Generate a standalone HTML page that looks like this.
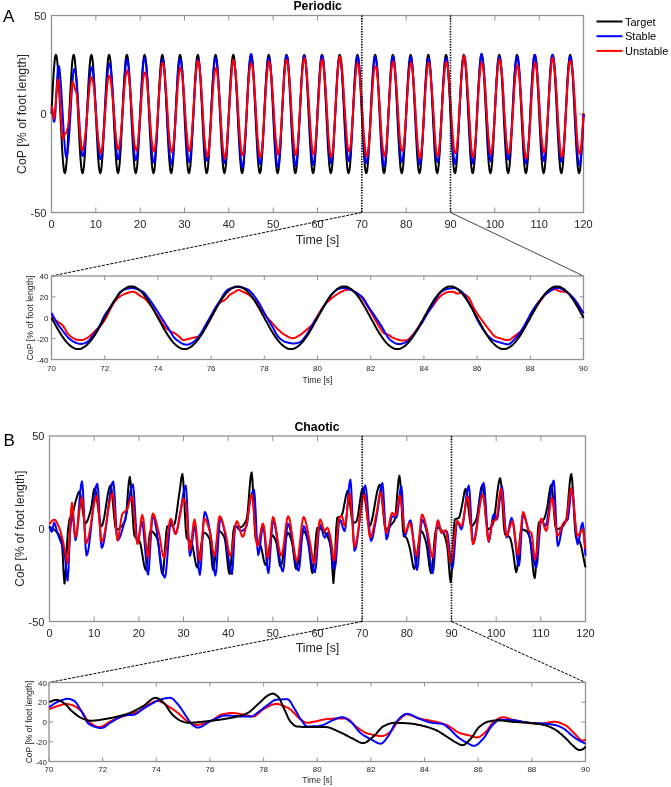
<!DOCTYPE html>
<html><head><meta charset="utf-8"><title>Figure</title>
<style>
html,body{margin:0;padding:0;background:#fff;}
body{width:671px;height:787px;overflow:hidden;}
svg{display:block;font-family:"Liberation Sans", sans-serif;will-change:transform;}
</style></head><body>
<svg width="671" height="787" viewBox="0 0 671 787">
<rect width="671" height="787" fill="#fff"/>
<defs><clipPath id="ca"><rect x="49.5" y="13.5" width="536.0" height="201.0"/></clipPath><clipPath id="cz"><rect x="49.5" y="274.0" width="536.0" height="87.5"/></clipPath><clipPath id="cb"><rect x="47.5" y="434.0" width="540.0" height="189.5"/></clipPath><clipPath id="cc"><rect x="47.0" y="680.5" width="540.5" height="83.0"/></clipPath></defs>
<rect x="51.50" y="15.50" width="532.00" height="197.00" fill="none" stroke="#929292" stroke-width="1.3"/>
<path d="M51.50 212.50V207.50M51.50 15.50V20.50M95.83 212.50V207.50M95.83 15.50V20.50M140.17 212.50V207.50M140.17 15.50V20.50M184.50 212.50V207.50M184.50 15.50V20.50M228.83 212.50V207.50M228.83 15.50V20.50M273.17 212.50V207.50M273.17 15.50V20.50M317.50 212.50V207.50M317.50 15.50V20.50M361.83 212.50V207.50M361.83 15.50V20.50M406.17 212.50V207.50M406.17 15.50V20.50M450.50 212.50V207.50M450.50 15.50V20.50M494.83 212.50V207.50M494.83 15.50V20.50M539.17 212.50V207.50M539.17 15.50V20.50M583.50 212.50V207.50M583.50 15.50V20.50M51.50 114.00H56.50M583.50 114.00H578.50" stroke="#929292" stroke-width="1" fill="none"/>
<text x="51.50" y="228.30" font-size="11" text-anchor="middle" font-weight="normal" fill="#262626">0</text>
<text x="95.83" y="228.30" font-size="11" text-anchor="middle" font-weight="normal" fill="#262626">10</text>
<text x="140.17" y="228.30" font-size="11" text-anchor="middle" font-weight="normal" fill="#262626">20</text>
<text x="184.50" y="228.30" font-size="11" text-anchor="middle" font-weight="normal" fill="#262626">30</text>
<text x="228.83" y="228.30" font-size="11" text-anchor="middle" font-weight="normal" fill="#262626">40</text>
<text x="273.17" y="228.30" font-size="11" text-anchor="middle" font-weight="normal" fill="#262626">50</text>
<text x="317.50" y="228.30" font-size="11" text-anchor="middle" font-weight="normal" fill="#262626">60</text>
<text x="361.83" y="228.30" font-size="11" text-anchor="middle" font-weight="normal" fill="#262626">70</text>
<text x="406.17" y="228.30" font-size="11" text-anchor="middle" font-weight="normal" fill="#262626">80</text>
<text x="450.50" y="228.30" font-size="11" text-anchor="middle" font-weight="normal" fill="#262626">90</text>
<text x="494.83" y="228.30" font-size="11" text-anchor="middle" font-weight="normal" fill="#262626">100</text>
<text x="539.17" y="228.30" font-size="11" text-anchor="middle" font-weight="normal" fill="#262626">110</text>
<text x="583.50" y="228.30" font-size="11" text-anchor="middle" font-weight="normal" fill="#262626">120</text>
<text x="46.50" y="118.00" font-size="11" text-anchor="end" font-weight="normal" fill="#262626">0</text>
<text x="46.50" y="19.50" font-size="11" text-anchor="end" font-weight="normal" fill="#262626">50</text>
<text x="46.50" y="216.50" font-size="11" text-anchor="end" font-weight="normal" fill="#262626">-50</text>
<path d="M51.5 114.0L51.9 104.8 52.4 95.7 52.8 87.2 53.3 79.3 53.7 72.2 54.2 66.2 54.6 61.3 55.0 57.8 55.5 55.6 55.9 54.9 56.4 55.6 56.8 57.8 57.3 61.3 57.7 66.2 58.1 72.2 58.6 79.3 59.0 87.2 59.5 95.7 59.9 104.8 60.4 114.0 60.8 123.2 61.3 132.3 61.7 140.8 62.1 148.7 62.6 155.8 63.0 161.8 63.5 166.7 63.9 170.2 64.4 172.4 64.8 173.1 65.2 172.4 65.7 170.2 66.1 166.7 66.6 161.8 67.0 155.8 67.5 148.7 67.9 140.8 68.3 132.3 68.8 123.2 69.2 114.0 69.7 104.8 70.1 95.7 70.6 87.2 71.0 79.3 71.5 72.2 71.9 66.2 72.3 61.3 72.8 57.8 73.2 55.6 73.7 54.9 74.1 55.6 74.6 57.8 75.0 61.3 75.4 66.2 75.9 72.2 76.3 79.3 76.8 87.2 77.2 95.7 77.7 104.8 78.1 114.0 78.5 123.2 79.0 132.3 79.4 140.8 79.9 148.7 80.3 155.8 80.8 161.8 81.2 166.7 81.6 170.2 82.1 172.4 82.5 173.1 83.0 172.4 83.4 170.2 83.9 166.7 84.3 161.8 84.8 155.8 85.2 148.7 85.6 140.8 86.1 132.3 86.5 123.2 87.0 114.0 87.4 104.8 87.9 95.7 88.3 87.2 88.7 79.3 89.2 72.2 89.6 66.2 90.1 61.3 90.5 57.8 91.0 55.6 91.4 54.9 91.8 55.6 92.3 57.8 92.7 61.3 93.2 66.2 93.6 72.2 94.1 79.3 94.5 87.2 94.9 95.7 95.4 104.8 95.8 114.0 96.3 123.2 96.7 132.3 97.2 140.8 97.6 148.7 98.0 155.8 98.5 161.8 98.9 166.7 99.4 170.2 99.8 172.4 100.3 173.1 100.7 172.4 101.2 170.2 101.6 166.7 102.0 161.8 102.5 155.8 102.9 148.7 103.4 140.8 103.8 132.3 104.3 123.2 104.7 114.0 105.1 104.8 105.6 95.7 106.0 87.2 106.5 79.3 106.9 72.2 107.4 66.2 107.8 61.3 108.2 57.8 108.7 55.6 109.1 54.9 109.6 55.6 110.0 57.8 110.5 61.3 110.9 66.2 111.3 72.2 111.8 79.3 112.2 87.2 112.7 95.7 113.1 104.8 113.6 114.0 114.0 123.2 114.5 132.3 114.9 140.8 115.3 148.7 115.8 155.8 116.2 161.8 116.7 166.7 117.1 170.2 117.6 172.4 118.0 173.1 118.4 172.4 118.9 170.2 119.3 166.7 119.8 161.8 120.2 155.8 120.7 148.7 121.1 140.8 121.5 132.3 122.0 123.2 122.4 114.0 122.9 104.8 123.3 95.7 123.8 87.2 124.2 79.3 124.7 72.2 125.1 66.2 125.5 61.3 126.0 57.8 126.4 55.6 126.9 54.9 127.3 55.6 127.8 57.8 128.2 61.3 128.6 66.2 129.1 72.2 129.5 79.3 130.0 87.2 130.4 95.7 130.9 104.8 131.3 114.0 131.7 123.2 132.2 132.3 132.6 140.8 133.1 148.7 133.5 155.8 134.0 161.8 134.4 166.7 134.8 170.2 135.3 172.4 135.7 173.1 136.2 172.4 136.6 170.2 137.1 166.7 137.5 161.8 137.9 155.8 138.4 148.7 138.8 140.8 139.3 132.3 139.7 123.2 140.2 114.0 140.6 104.8 141.1 95.7 141.5 87.2 141.9 79.3 142.4 72.2 142.8 66.2 143.3 61.3 143.7 57.8 144.2 55.6 144.6 54.9 145.0 55.6 145.5 57.8 145.9 61.3 146.4 66.2 146.8 72.2 147.3 79.3 147.7 87.2 148.1 95.7 148.6 104.8 149.0 114.0 149.5 123.2 149.9 132.3 150.4 140.8 150.8 148.7 151.2 155.8 151.7 161.8 152.1 166.7 152.6 170.2 153.0 172.4 153.5 173.1 153.9 172.4 154.4 170.2 154.8 166.7 155.2 161.8 155.7 155.8 156.1 148.7 156.6 140.8 157.0 132.3 157.5 123.2 157.9 114.0 158.3 104.8 158.8 95.7 159.2 87.2 159.7 79.3 160.1 72.2 160.6 66.2 161.0 61.3 161.4 57.8 161.9 55.6 162.3 54.9 162.8 55.6 163.2 57.8 163.7 61.3 164.1 66.2 164.6 72.2 165.0 79.3 165.4 87.2 165.9 95.7 166.3 104.8 166.8 114.0 167.2 123.2 167.7 132.3 168.1 140.8 168.5 148.7 169.0 155.8 169.4 161.8 169.9 166.7 170.3 170.2 170.8 172.4 171.2 173.1 171.6 172.4 172.1 170.2 172.5 166.7 173.0 161.8 173.4 155.8 173.9 148.7 174.3 140.8 174.7 132.3 175.2 123.2 175.6 114.0 176.1 104.8 176.5 95.7 177.0 87.2 177.4 79.3 177.8 72.2 178.3 66.2 178.7 61.3 179.2 57.8 179.6 55.6 180.1 54.9 180.5 55.6 181.0 57.8 181.4 61.3 181.8 66.2 182.3 72.2 182.7 79.3 183.2 87.2 183.6 95.7 184.1 104.8 184.5 114.0 184.9 123.2 185.4 132.3 185.8 140.8 186.3 148.7 186.7 155.8 187.2 161.8 187.6 166.7 188.0 170.2 188.5 172.4 188.9 173.1 189.4 172.4 189.8 170.2 190.3 166.7 190.7 161.8 191.2 155.8 191.6 148.7 192.0 140.8 192.5 132.3 192.9 123.2 193.4 114.0 193.8 104.8 194.3 95.7 194.7 87.2 195.1 79.3 195.6 72.2 196.0 66.2 196.5 61.3 196.9 57.8 197.4 55.6 197.8 54.9 198.2 55.6 198.7 57.8 199.1 61.3 199.6 66.2 200.0 72.2 200.5 79.3 200.9 87.2 201.3 95.7 201.8 104.8 202.2 114.0 202.7 123.2 203.1 132.3 203.6 140.8 204.0 148.7 204.4 155.8 204.9 161.8 205.3 166.7 205.8 170.2 206.2 172.4 206.7 173.1 207.1 172.4 207.6 170.2 208.0 166.7 208.4 161.8 208.9 155.8 209.3 148.7 209.8 140.8 210.2 132.3 210.7 123.2 211.1 114.0 211.5 104.8 212.0 95.7 212.4 87.2 212.9 79.3 213.3 72.2 213.8 66.2 214.2 61.3 214.6 57.8 215.1 55.6 215.5 54.9 216.0 55.6 216.4 57.8 216.9 61.3 217.3 66.2 217.8 72.2 218.2 79.3 218.6 87.2 219.1 95.7 219.5 104.8 220.0 114.0 220.4 123.2 220.9 132.3 221.3 140.8 221.7 148.7 222.2 155.8 222.6 161.8 223.1 166.7 223.5 170.2 224.0 172.4 224.4 173.1 224.8 172.4 225.3 170.2 225.7 166.7 226.2 161.8 226.6 155.8 227.1 148.7 227.5 140.8 227.9 132.3 228.4 123.2 228.8 114.0 229.3 104.8 229.7 95.7 230.2 87.2 230.6 79.3 231.1 72.2 231.5 66.2 231.9 61.3 232.4 57.8 232.8 55.6 233.3 54.9 233.7 55.6 234.2 57.8 234.6 61.3 235.0 66.2 235.5 72.2 235.9 79.3 236.4 87.2 236.8 95.7 237.3 104.8 237.7 114.0 238.1 123.2 238.6 132.3 239.0 140.8 239.5 148.7 239.9 155.8 240.4 161.8 240.8 166.7 241.2 170.2 241.7 172.4 242.1 173.1 242.6 172.4 243.0 170.2 243.5 166.7 243.9 161.8 244.3 155.8 244.8 148.7 245.2 140.8 245.7 132.3 246.1 123.2 246.6 114.0 247.0 104.8 247.5 95.7 247.9 87.2 248.3 79.3 248.8 72.2 249.2 66.2 249.7 61.3 250.1 57.8 250.6 55.6 251.0 54.9 251.4 55.6 251.9 57.8 252.3 61.3 252.8 66.2 253.2 72.2 253.7 79.3 254.1 87.2 254.5 95.7 255.0 104.8 255.4 114.0 255.9 123.2 256.3 132.3 256.8 140.8 257.2 148.7 257.6 155.8 258.1 161.8 258.5 166.7 259.0 170.2 259.4 172.4 259.9 173.1 260.3 172.4 260.8 170.2 261.2 166.7 261.6 161.8 262.1 155.8 262.5 148.7 263.0 140.8 263.4 132.3 263.9 123.2 264.3 114.0 264.7 104.8 265.2 95.7 265.6 87.2 266.1 79.3 266.5 72.2 267.0 66.2 267.4 61.3 267.8 57.8 268.3 55.6 268.7 54.9 269.2 55.6 269.6 57.8 270.1 61.3 270.5 66.2 270.9 72.2 271.4 79.3 271.8 87.2 272.3 95.7 272.7 104.8 273.2 114.0 273.6 123.2 274.1 132.3 274.5 140.8 274.9 148.7 275.4 155.8 275.8 161.8 276.3 166.7 276.7 170.2 277.2 172.4 277.6 173.1 278.0 172.4 278.5 170.2 278.9 166.7 279.4 161.8 279.8 155.8 280.3 148.7 280.7 140.8 281.1 132.3 281.6 123.2 282.0 114.0 282.5 104.8 282.9 95.7 283.4 87.2 283.8 79.3 284.2 72.2 284.7 66.2 285.1 61.3 285.6 57.8 286.0 55.6 286.5 54.9 286.9 55.6 287.4 57.8 287.8 61.3 288.2 66.2 288.7 72.2 289.1 79.3 289.6 87.2 290.0 95.7 290.5 104.8 290.9 114.0 291.3 123.2 291.8 132.3 292.2 140.8 292.7 148.7 293.1 155.8 293.6 161.8 294.0 166.7 294.4 170.2 294.9 172.4 295.3 173.1 295.8 172.4 296.2 170.2 296.7 166.7 297.1 161.8 297.6 155.8 298.0 148.7 298.4 140.8 298.9 132.3 299.3 123.2 299.8 114.0 300.2 104.8 300.7 95.7 301.1 87.2 301.5 79.3 302.0 72.2 302.4 66.2 302.9 61.3 303.3 57.8 303.8 55.6 304.2 54.9 304.6 55.6 305.1 57.8 305.5 61.3 306.0 66.2 306.4 72.2 306.9 79.3 307.3 87.2 307.7 95.7 308.2 104.8 308.6 114.0 309.1 123.2 309.5 132.3 310.0 140.8 310.4 148.7 310.9 155.8 311.3 161.8 311.7 166.7 312.2 170.2 312.6 172.4 313.1 173.1 313.5 172.4 314.0 170.2 314.4 166.7 314.8 161.8 315.3 155.8 315.7 148.7 316.2 140.8 316.6 132.3 317.1 123.2 317.5 114.0 317.9 104.8 318.4 95.7 318.8 87.2 319.3 79.3 319.7 72.2 320.2 66.2 320.6 61.3 321.0 57.8 321.5 55.6 321.9 54.9 322.4 55.6 322.8 57.8 323.3 61.3 323.7 66.2 324.1 72.2 324.6 79.3 325.0 87.2 325.5 95.7 325.9 104.8 326.4 114.0 326.8 123.2 327.3 132.3 327.7 140.8 328.1 148.7 328.6 155.8 329.0 161.8 329.5 166.7 329.9 170.2 330.4 172.4 330.8 173.1 331.2 172.4 331.7 170.2 332.1 166.7 332.6 161.8 333.0 155.8 333.5 148.7 333.9 140.8 334.3 132.3 334.8 123.2 335.2 114.0 335.7 104.8 336.1 95.7 336.6 87.2 337.0 79.3 337.4 72.2 337.9 66.2 338.3 61.3 338.8 57.8 339.2 55.6 339.7 54.9 340.1 55.6 340.6 57.8 341.0 61.3 341.4 66.2 341.9 72.2 342.3 79.3 342.8 87.2 343.2 95.7 343.7 104.8 344.1 114.0 344.5 123.2 345.0 132.3 345.4 140.8 345.9 148.7 346.3 155.8 346.8 161.8 347.2 166.7 347.6 170.2 348.1 172.4 348.5 173.1 349.0 172.4 349.4 170.2 349.9 166.7 350.3 161.8 350.8 155.8 351.2 148.7 351.6 140.8 352.1 132.3 352.5 123.2 353.0 114.0 353.4 104.8 353.9 95.7 354.3 87.2 354.7 79.3 355.2 72.2 355.6 66.2 356.1 61.3 356.5 57.8 357.0 55.6 357.4 54.9 357.8 55.6 358.3 57.8 358.7 61.3 359.2 66.2 359.6 72.2 360.1 79.3 360.5 87.2 360.9 95.7 361.4 104.8 361.8 114.0 362.3 123.2 362.7 132.3 363.2 140.8 363.6 148.7 364.1 155.8 364.5 161.8 364.9 166.7 365.4 170.2 365.8 172.4 366.3 173.1 366.7 172.4 367.2 170.2 367.6 166.7 368.0 161.8 368.5 155.8 368.9 148.7 369.4 140.8 369.8 132.3 370.3 123.2 370.7 114.0 371.1 104.8 371.6 95.7 372.0 87.2 372.5 79.3 372.9 72.2 373.4 66.2 373.8 61.3 374.2 57.8 374.7 55.6 375.1 54.9 375.6 55.6 376.0 57.8 376.5 61.3 376.9 66.2 377.4 72.2 377.8 79.3 378.2 87.2 378.7 95.7 379.1 104.8 379.6 114.0 380.0 123.2 380.5 132.3 380.9 140.8 381.3 148.7 381.8 155.8 382.2 161.8 382.7 166.7 383.1 170.2 383.6 172.4 384.0 173.1 384.4 172.4 384.9 170.2 385.3 166.7 385.8 161.8 386.2 155.8 386.7 148.7 387.1 140.8 387.5 132.3 388.0 123.2 388.4 114.0 388.9 104.8 389.3 95.7 389.8 87.2 390.2 79.3 390.6 72.2 391.1 66.2 391.5 61.3 392.0 57.8 392.4 55.6 392.9 54.9 393.3 55.6 393.8 57.8 394.2 61.3 394.6 66.2 395.1 72.2 395.5 79.3 396.0 87.2 396.4 95.7 396.9 104.8 397.3 114.0 397.7 123.2 398.2 132.3 398.6 140.8 399.1 148.7 399.5 155.8 400.0 161.8 400.4 166.7 400.8 170.2 401.3 172.4 401.7 173.1 402.2 172.4 402.6 170.2 403.1 166.7 403.5 161.8 403.9 155.8 404.4 148.7 404.8 140.8 405.3 132.3 405.7 123.2 406.2 114.0 406.6 104.8 407.1 95.7 407.5 87.2 407.9 79.3 408.4 72.2 408.8 66.2 409.3 61.3 409.7 57.8 410.2 55.6 410.6 54.9 411.0 55.6 411.5 57.8 411.9 61.3 412.4 66.2 412.8 72.2 413.3 79.3 413.7 87.2 414.1 95.7 414.6 104.8 415.0 114.0 415.5 123.2 415.9 132.3 416.4 140.8 416.8 148.7 417.2 155.8 417.7 161.8 418.1 166.7 418.6 170.2 419.0 172.4 419.5 173.1 419.9 172.4 420.4 170.2 420.8 166.7 421.2 161.8 421.7 155.8 422.1 148.7 422.6 140.8 423.0 132.3 423.5 123.2 423.9 114.0 424.3 104.8 424.8 95.7 425.2 87.2 425.7 79.3 426.1 72.2 426.6 66.2 427.0 61.3 427.4 57.8 427.9 55.6 428.3 54.9 428.8 55.6 429.2 57.8 429.7 61.3 430.1 66.2 430.6 72.2 431.0 79.3 431.4 87.2 431.9 95.7 432.3 104.8 432.8 114.0 433.2 123.2 433.7 132.3 434.1 140.8 434.5 148.7 435.0 155.8 435.4 161.8 435.9 166.7 436.3 170.2 436.8 172.4 437.2 173.1 437.6 172.4 438.1 170.2 438.5 166.7 439.0 161.8 439.4 155.8 439.9 148.7 440.3 140.8 440.7 132.3 441.2 123.2 441.6 114.0 442.1 104.8 442.5 95.7 443.0 87.2 443.4 79.3 443.9 72.2 444.3 66.2 444.7 61.3 445.2 57.8 445.6 55.6 446.1 54.9 446.5 55.6 447.0 57.8 447.4 61.3 447.8 66.2 448.3 72.2 448.7 79.3 449.2 87.2 449.6 95.7 450.1 104.8 450.5 114.0 450.9 123.2 451.4 132.3 451.8 140.8 452.3 148.7 452.7 155.8 453.2 161.8 453.6 166.7 454.0 170.2 454.5 172.4 454.9 173.1 455.4 172.4 455.8 170.2 456.3 166.7 456.7 161.8 457.1 155.8 457.6 148.7 458.0 140.8 458.5 132.3 458.9 123.2 459.4 114.0 459.8 104.8 460.3 95.7 460.7 87.2 461.1 79.3 461.6 72.2 462.0 66.2 462.5 61.3 462.9 57.8 463.4 55.6 463.8 54.9 464.2 55.6 464.7 57.8 465.1 61.3 465.6 66.2 466.0 72.2 466.5 79.3 466.9 87.2 467.3 95.7 467.8 104.8 468.2 114.0 468.7 123.2 469.1 132.3 469.6 140.8 470.0 148.7 470.4 155.8 470.9 161.8 471.3 166.7 471.8 170.2 472.2 172.4 472.7 173.1 473.1 172.4 473.6 170.2 474.0 166.7 474.4 161.8 474.9 155.8 475.3 148.7 475.8 140.8 476.2 132.3 476.7 123.2 477.1 114.0 477.5 104.8 478.0 95.7 478.4 87.2 478.9 79.3 479.3 72.2 479.8 66.2 480.2 61.3 480.6 57.8 481.1 55.6 481.5 54.9 482.0 55.6 482.4 57.8 482.9 61.3 483.3 66.2 483.8 72.2 484.2 79.3 484.6 87.2 485.1 95.7 485.5 104.8 486.0 114.0 486.4 123.2 486.9 132.3 487.3 140.8 487.7 148.7 488.2 155.8 488.6 161.8 489.1 166.7 489.5 170.2 490.0 172.4 490.4 173.1 490.8 172.4 491.3 170.2 491.7 166.7 492.2 161.8 492.6 155.8 493.1 148.7 493.5 140.8 493.9 132.3 494.4 123.2 494.8 114.0 495.3 104.8 495.7 95.7 496.2 87.2 496.6 79.3 497.1 72.2 497.5 66.2 497.9 61.3 498.4 57.8 498.8 55.6 499.3 54.9 499.7 55.6 500.2 57.8 500.6 61.3 501.0 66.2 501.5 72.2 501.9 79.3 502.4 87.2 502.8 95.7 503.3 104.8 503.7 114.0 504.1 123.2 504.6 132.3 505.0 140.8 505.5 148.7 505.9 155.8 506.4 161.8 506.8 166.7 507.2 170.2 507.7 172.4 508.1 173.1 508.6 172.4 509.0 170.2 509.5 166.7 509.9 161.8 510.4 155.8 510.8 148.7 511.2 140.8 511.7 132.3 512.1 123.2 512.6 114.0 513.0 104.8 513.5 95.7 513.9 87.2 514.3 79.3 514.8 72.2 515.2 66.2 515.7 61.3 516.1 57.8 516.6 55.6 517.0 54.9 517.4 55.6 517.9 57.8 518.3 61.3 518.8 66.2 519.2 72.2 519.7 79.3 520.1 87.2 520.5 95.7 521.0 104.8 521.4 114.0 521.9 123.2 522.3 132.3 522.8 140.8 523.2 148.7 523.6 155.8 524.1 161.8 524.5 166.7 525.0 170.2 525.4 172.4 525.9 173.1 526.3 172.4 526.8 170.2 527.2 166.7 527.6 161.8 528.1 155.8 528.5 148.7 529.0 140.8 529.4 132.3 529.9 123.2 530.3 114.0 530.7 104.8 531.2 95.7 531.6 87.2 532.1 79.3 532.5 72.2 533.0 66.2 533.4 61.3 533.8 57.8 534.3 55.6 534.7 54.9 535.2 55.6 535.6 57.8 536.1 61.3 536.5 66.2 537.0 72.2 537.4 79.3 537.8 87.2 538.3 95.7 538.7 104.8 539.2 114.0 539.6 123.2 540.1 132.3 540.5 140.8 540.9 148.7 541.4 155.8 541.8 161.8 542.3 166.7 542.7 170.2 543.2 172.4 543.6 173.1 544.0 172.4 544.5 170.2 544.9 166.7 545.4 161.8 545.8 155.8 546.3 148.7 546.7 140.8 547.1 132.3 547.6 123.2 548.0 114.0 548.5 104.8 548.9 95.7 549.4 87.2 549.8 79.3 550.2 72.2 550.7 66.2 551.1 61.3 551.6 57.8 552.0 55.6 552.5 54.9 552.9 55.6 553.4 57.8 553.8 61.3 554.2 66.2 554.7 72.2 555.1 79.3 555.6 87.2 556.0 95.7 556.5 104.8 556.9 114.0 557.3 123.2 557.8 132.3 558.2 140.8 558.7 148.7 559.1 155.8 559.6 161.8 560.0 166.7 560.4 170.2 560.9 172.4 561.3 173.1 561.8 172.4 562.2 170.2 562.7 166.7 563.1 161.8 563.5 155.8 564.0 148.7 564.4 140.8 564.9 132.3 565.3 123.2 565.8 114.0 566.2 104.8 566.7 95.7 567.1 87.2 567.5 79.3 568.0 72.2 568.4 66.2 568.9 61.3 569.3 57.8 569.8 55.6 570.2 54.9 570.6 55.6 571.1 57.8 571.5 61.3 572.0 66.2 572.4 72.2 572.9 79.3 573.3 87.2 573.7 95.7 574.2 104.8 574.6 114.0 575.1 123.2 575.5 132.3 576.0 140.8 576.4 148.7 576.9 155.8 577.3 161.8 577.7 166.7 578.2 170.2 578.6 172.4 579.1 173.1 579.5 172.4 580.0 170.2 580.4 166.7 580.8 161.8 581.3 155.8 581.7 148.7 582.2 140.8 582.6 132.3 583.1 123.2 583.5 114.0" stroke="#000000" stroke-width="2.00" fill="none" stroke-linejoin="round"/>
<path d="M51.5 106.7L51.9 107.7 52.4 110.3 52.8 113.6 53.3 117.4 53.7 120.9 54.2 121.8 54.6 120.5 55.0 117.2 55.5 110.5 55.9 102.4 56.4 93.4 56.8 85.0 57.3 77.0 57.7 70.6 58.1 66.3 58.6 66.0 59.0 66.3 59.5 68.7 59.9 72.9 60.4 78.5 60.8 83.9 61.3 90.5 61.7 97.2 62.1 104.7 62.6 112.4 63.0 120.2 63.5 128.1 63.9 135.2 64.4 141.8 64.8 147.2 65.2 151.7 65.7 154.9 66.1 157.0 66.6 157.2 67.0 156.0 67.5 153.9 67.9 150.0 68.3 145.6 68.8 140.3 69.2 134.3 69.7 127.1 70.1 120.0 70.6 111.8 71.0 103.6 71.5 96.0 71.9 89.3 72.3 83.2 72.8 77.7 73.2 73.7 73.7 71.1 74.1 69.4 74.6 69.0 75.0 69.8 75.4 71.8 75.9 73.6 76.3 77.2 76.8 81.9 77.2 88.2 77.7 94.2 78.1 101.8 78.5 109.4 79.0 116.5 79.4 123.4 79.9 130.2 80.3 136.4 80.8 142.7 81.2 147.5 81.6 152.0 82.1 154.8 82.5 155.9 83.0 155.8 83.4 155.8 83.9 153.9 84.3 151.3 84.8 148.0 85.2 143.2 85.6 137.3 86.1 129.9 86.5 123.3 87.0 115.9 87.4 108.2 87.9 100.6 88.3 94.0 88.7 87.8 89.2 82.2 89.6 77.5 90.1 73.8 90.5 70.5 91.0 68.2 91.4 67.1 91.8 67.2 92.3 68.4 92.7 70.8 93.2 74.2 93.6 78.6 94.1 83.4 94.5 89.0 94.9 95.4 95.4 102.1 95.8 109.7 96.3 116.9 96.7 124.0 97.2 130.8 97.6 137.5 98.0 142.0 98.5 147.7 98.9 151.9 99.4 155.4 99.8 157.5 100.3 159.2 100.7 158.9 101.2 158.7 101.6 156.7 102.0 152.9 102.5 148.0 102.9 143.0 103.4 136.0 103.8 128.4 104.3 121.1 104.7 114.4 105.1 106.8 105.6 99.8 106.0 93.3 106.5 86.9 106.9 81.4 107.4 76.1 107.8 71.1 108.2 67.6 108.7 65.5 109.1 63.8 109.6 63.6 110.0 64.7 110.5 66.5 110.9 69.1 111.3 73.3 111.8 78.2 112.2 84.2 112.7 90.9 113.1 98.3 113.6 105.6 114.0 113.5 114.5 121.9 114.9 129.4 115.3 136.5 115.8 143.0 116.2 148.4 116.7 152.7 117.1 156.0 117.6 158.1 118.0 159.6 118.4 159.2 118.9 157.4 119.3 155.3 119.8 151.1 120.2 146.2 120.7 141.1 121.1 134.8 121.5 128.1 122.0 121.1 122.4 113.3 122.9 104.9 123.3 97.3 123.8 89.5 124.2 82.9 124.7 76.4 125.1 71.1 125.5 66.8 126.0 63.3 126.4 61.0 126.9 59.6 127.3 59.5 127.8 60.3 128.2 63.0 128.6 66.5 129.1 72.4 129.5 77.8 130.0 84.6 130.4 91.4 130.9 99.1 131.3 106.1 131.7 114.5 132.2 122.3 132.6 130.1 133.1 136.8 133.5 143.2 134.0 149.1 134.4 153.5 134.8 157.0 135.3 159.2 135.7 160.0 136.2 159.5 136.6 158.4 137.1 155.7 137.5 152.3 137.9 147.9 138.4 141.9 138.8 134.9 139.3 127.8 139.7 120.4 140.2 112.5 140.6 105.3 141.1 97.4 141.5 89.9 141.9 82.1 142.4 75.3 142.8 69.2 143.3 64.0 143.7 60.7 144.2 59.0 144.6 58.1 145.0 58.0 145.5 60.2 145.9 62.6 146.4 66.4 146.8 70.6 147.3 76.9 147.7 83.8 148.1 91.0 148.6 98.7 149.0 107.4 149.5 115.0 149.9 122.8 150.4 130.6 150.8 137.7 151.2 144.3 151.7 150.3 152.1 154.8 152.6 158.6 153.0 161.3 153.5 162.5 153.9 162.5 154.4 161.4 154.8 158.8 155.2 155.4 155.7 150.3 156.1 145.3 156.6 139.1 157.0 132.0 157.5 123.7 157.9 116.0 158.3 107.7 158.8 99.5 159.2 91.9 159.7 85.3 160.1 78.9 160.6 73.2 161.0 68.4 161.4 64.6 161.9 61.4 162.3 59.9 162.8 59.6 163.2 60.7 163.7 63.1 164.1 67.2 164.6 71.9 165.0 78.3 165.4 85.3 165.9 92.5 166.3 100.3 166.8 108.6 167.2 116.7 167.7 124.8 168.1 132.7 168.5 139.6 169.0 146.0 169.4 151.5 169.9 156.0 170.3 159.6 170.8 162.2 171.2 164.3 171.6 164.4 172.1 162.7 172.5 160.7 173.0 156.8 173.4 151.6 173.9 145.1 174.3 139.0 174.7 131.0 175.2 123.8 175.6 115.4 176.1 107.0 176.5 98.9 177.0 90.5 177.4 82.7 177.8 75.9 178.3 71.2 178.7 65.6 179.2 62.5 179.6 60.0 180.1 59.1 180.5 58.7 181.0 60.1 181.4 62.6 181.8 66.0 182.3 70.5 182.7 76.0 183.2 83.2 183.6 90.2 184.1 97.5 184.5 105.4 184.9 113.5 185.4 121.6 185.8 129.2 186.3 136.9 186.7 144.2 187.2 150.6 187.6 154.6 188.0 158.4 188.5 161.4 188.9 161.9 189.4 161.1 189.8 160.3 190.3 157.9 190.7 153.6 191.2 149.0 191.6 143.8 192.0 137.7 192.5 130.4 192.9 123.4 193.4 115.4 193.8 106.9 194.3 99.7 194.7 92.2 195.1 84.6 195.6 77.8 196.0 72.4 196.5 66.9 196.9 62.7 197.4 60.6 197.8 59.8 198.2 59.2 198.7 60.4 199.1 63.2 199.6 66.8 200.0 71.4 200.5 78.0 200.9 84.7 201.3 91.7 201.8 99.6 202.2 107.5 202.7 115.6 203.1 123.3 203.6 131.3 204.0 138.5 204.4 144.7 204.9 150.0 205.3 154.2 205.8 158.1 206.2 159.8 206.7 160.7 207.1 160.5 207.6 159.8 208.0 156.8 208.4 153.3 208.9 149.3 209.3 143.5 209.8 136.9 210.2 129.5 210.7 121.9 211.1 113.9 211.5 105.4 212.0 97.2 212.4 88.7 212.9 81.4 213.3 74.7 213.8 69.4 214.2 64.5 214.6 61.9 215.1 59.8 215.5 57.9 216.0 58.3 216.4 59.3 216.9 61.7 217.3 65.5 217.8 70.4 218.2 76.0 218.6 83.5 219.1 90.9 219.5 98.0 220.0 106.5 220.4 114.4 220.9 121.7 221.3 129.4 221.7 137.1 222.2 144.0 222.6 150.5 223.1 155.9 223.5 159.2 224.0 162.4 224.4 163.2 224.8 162.7 225.3 161.6 225.7 159.6 226.2 154.7 226.6 150.5 227.1 144.5 227.5 137.2 227.9 130.2 228.4 122.8 228.8 114.3 229.3 106.5 229.7 98.6 230.2 90.7 230.6 83.8 231.1 77.8 231.5 71.8 231.9 67.4 232.4 63.9 232.8 61.6 233.3 60.5 233.7 61.0 234.2 62.1 234.6 64.9 235.0 68.0 235.5 72.5 235.9 78.2 236.4 85.6 236.8 92.3 237.3 101.2 237.7 109.5 238.1 117.5 238.6 125.4 239.0 134.3 239.5 141.3 239.9 147.9 240.4 154.0 240.8 158.6 241.2 162.6 241.7 165.4 242.1 166.9 242.6 167.7 243.0 166.6 243.5 162.8 243.9 158.9 244.3 153.3 244.8 147.0 245.2 139.8 245.7 132.6 246.1 124.3 246.6 116.0 247.0 106.4 247.5 97.3 247.9 88.7 248.3 80.6 248.8 73.5 249.2 67.7 249.7 62.6 250.1 58.5 250.6 55.9 251.0 54.1 251.4 54.4 251.9 56.1 252.3 59.7 252.8 63.4 253.2 69.1 253.7 75.5 254.1 82.5 254.5 89.7 255.0 97.9 255.4 106.1 255.9 114.5 256.3 122.6 256.8 130.8 257.2 138.1 257.6 145.8 258.1 151.5 258.5 156.8 259.0 160.3 259.4 163.4 259.9 163.7 260.3 164.1 260.8 162.3 261.2 159.8 261.6 155.8 262.1 150.5 262.5 144.6 263.0 138.2 263.4 130.7 263.9 122.3 264.3 114.5 264.7 105.4 265.2 96.8 265.6 88.9 266.1 81.8 266.5 75.2 267.0 69.3 267.4 64.9 267.8 61.1 268.3 59.0 268.7 57.9 269.2 58.8 269.6 59.5 270.1 62.9 270.5 66.4 270.9 71.1 271.4 76.5 271.8 83.7 272.3 90.5 272.7 98.5 273.2 107.0 273.6 115.8 274.1 124.5 274.5 133.6 274.9 141.4 275.4 148.2 275.8 154.4 276.3 159.8 276.7 163.2 277.2 165.5 277.6 166.9 278.0 167.1 278.5 165.2 278.9 162.7 279.4 159.0 279.8 154.9 280.3 147.9 280.7 141.0 281.1 132.9 281.6 124.7 282.0 115.6 282.5 107.0 282.9 98.4 283.4 90.3 283.8 82.3 284.2 74.9 284.7 69.2 285.1 63.7 285.6 59.8 286.0 57.4 286.5 55.9 286.9 55.5 287.4 56.9 287.8 58.9 288.2 62.9 288.7 68.5 289.1 74.3 289.6 81.2 290.0 89.5 290.5 97.4 290.9 105.7 291.3 115.3 291.8 123.8 292.2 131.7 292.7 139.5 293.1 145.7 293.6 150.8 294.0 156.3 294.4 160.6 294.9 163.9 295.3 165.7 295.8 166.3 296.2 164.6 296.7 161.6 297.1 157.3 297.6 152.3 298.0 146.6 298.4 139.3 298.9 131.8 299.3 123.2 299.8 114.7 300.2 105.6 300.7 97.3 301.1 89.0 301.5 81.8 302.0 74.0 302.4 68.0 302.9 63.1 303.3 59.2 303.8 56.6 304.2 55.7 304.6 55.7 305.1 57.2 305.5 60.6 306.0 64.1 306.4 69.3 306.9 75.3 307.3 82.3 307.7 88.7 308.2 96.7 308.6 105.1 309.1 113.3 309.5 121.2 310.0 129.9 310.4 137.3 310.9 144.5 311.3 151.4 311.7 156.5 312.2 160.4 312.6 163.3 313.1 165.1 313.5 164.8 314.0 163.7 314.4 160.5 314.8 156.6 315.3 151.1 315.7 145.0 316.2 137.4 316.6 129.9 317.1 121.6 317.5 112.3 317.9 104.0 318.4 96.7 318.8 88.8 319.3 81.3 319.7 75.4 320.2 68.9 320.6 63.4 321.0 59.8 321.5 57.1 321.9 55.9 322.4 55.8 322.8 57.2 323.3 58.7 323.7 62.5 324.1 67.1 324.6 73.3 325.0 80.2 325.5 88.7 325.9 97.5 326.4 105.5 326.8 113.6 327.3 122.1 327.7 130.0 328.1 137.2 328.6 144.0 329.0 150.1 329.5 155.2 329.9 159.0 330.4 161.6 330.8 163.2 331.2 163.3 331.7 161.4 332.1 158.8 332.6 155.1 333.0 150.0 333.5 144.1 333.9 137.8 334.3 130.1 334.8 121.7 335.2 113.3 335.7 105.1 336.1 96.6 336.6 88.6 337.0 81.6 337.4 74.9 337.9 69.0 338.3 64.0 338.8 60.7 339.2 58.2 339.7 57.1 340.1 57.8 340.6 59.6 341.0 62.0 341.4 65.7 341.9 70.7 342.3 76.7 342.8 83.3 343.2 90.4 343.7 97.8 344.1 105.3 344.5 112.6 345.0 120.4 345.4 128.9 345.9 136.3 346.3 143.0 346.8 148.6 347.2 153.5 347.6 156.6 348.1 159.4 348.5 161.0 349.0 161.1 349.4 159.7 349.9 157.1 350.3 153.5 350.8 148.1 351.2 142.6 351.6 136.9 352.1 128.9 352.5 120.3 353.0 112.6 353.4 103.7 353.9 94.5 354.3 87.4 354.7 80.3 355.2 74.1 355.6 68.8 356.1 64.4 356.5 60.4 357.0 57.7 357.4 56.3 357.8 56.1 358.3 57.9 358.7 61.0 359.2 65.1 359.6 69.6 360.1 75.4 360.5 81.2 360.9 88.9 361.4 97.2 361.8 106.7 362.3 115.4 362.7 123.9 363.2 131.5 363.6 139.0 364.1 144.8 364.5 150.5 364.9 155.5 365.4 159.3 365.8 161.6 366.3 163.0 366.7 163.1 367.2 161.6 367.6 158.8 368.0 155.5 368.5 150.7 368.9 144.7 369.4 138.2 369.8 130.6 370.3 122.4 370.7 113.6 371.1 105.2 371.6 96.7 372.0 88.6 372.5 80.7 372.9 74.4 373.4 68.3 373.8 63.3 374.2 59.8 374.7 57.5 375.1 56.7 375.6 57.1 376.0 58.7 376.5 61.8 376.9 65.4 377.4 70.1 377.8 76.6 378.2 83.8 378.7 91.2 379.1 99.7 379.6 108.4 380.0 116.6 380.5 125.4 380.9 133.6 381.3 141.0 381.8 147.9 382.2 153.7 382.7 158.0 383.1 161.9 383.6 165.4 384.0 166.2 384.4 166.0 384.9 165.4 385.3 162.5 385.8 157.7 386.2 153.4 386.7 147.9 387.1 140.0 387.5 132.3 388.0 124.1 388.4 114.7 388.9 106.1 389.3 98.6 389.8 90.1 390.2 82.7 390.6 76.1 391.1 69.5 391.5 63.9 392.0 60.4 392.4 57.8 392.9 56.4 393.3 56.2 393.8 57.9 394.2 61.0 394.6 64.5 395.1 69.8 395.5 76.4 396.0 82.9 396.4 89.7 396.9 97.6 397.3 105.4 397.7 113.3 398.2 121.7 398.6 129.7 399.1 136.9 399.5 144.1 400.0 150.6 400.4 155.2 400.8 159.1 401.3 161.3 401.7 162.2 402.2 161.0 402.6 159.7 403.1 157.1 403.5 153.0 403.9 148.4 404.4 142.9 404.8 137.1 405.3 129.9 405.7 122.4 406.2 113.7 406.6 106.1 407.1 97.3 407.5 89.4 407.9 82.3 408.4 76.2 408.8 70.3 409.3 65.6 409.7 61.7 410.2 59.2 410.6 57.1 411.0 57.3 411.5 58.3 411.9 61.5 412.4 66.1 412.8 72.7 413.3 78.7 413.7 85.0 414.1 92.1 414.6 100.3 415.0 107.7 415.5 116.1 415.9 125.0 416.4 132.2 416.8 138.4 417.2 144.6 417.7 150.6 418.1 155.1 418.6 159.8 419.0 162.3 419.5 164.4 419.9 163.8 420.4 162.5 420.8 159.5 421.2 156.5 421.7 151.0 422.1 146.1 422.6 139.8 423.0 132.8 423.5 123.8 423.9 115.7 424.3 107.1 424.8 98.3 425.2 89.4 425.7 82.7 426.1 76.4 426.6 70.8 427.0 66.1 427.4 62.7 427.9 60.2 428.3 58.8 428.8 58.9 429.2 60.6 429.7 63.4 430.1 67.1 430.6 71.8 431.0 77.7 431.4 83.8 431.9 91.4 432.3 98.8 432.8 106.6 433.2 114.4 433.7 122.5 434.1 130.3 434.5 138.0 435.0 145.2 435.4 150.6 435.9 154.8 436.3 158.6 436.8 160.5 437.2 161.6 437.6 162.0 438.1 161.4 438.5 158.9 439.0 155.4 439.4 150.0 439.9 144.8 440.3 137.8 440.7 130.2 441.2 122.1 441.6 114.6 442.1 105.4 442.5 97.1 443.0 89.1 443.4 81.8 443.9 75.2 444.3 69.6 444.7 65.1 445.2 62.1 445.6 60.0 446.1 58.3 446.5 58.1 447.0 60.1 447.4 62.5 447.8 66.6 448.3 71.6 448.7 77.5 449.2 83.9 449.6 91.6 450.1 99.9 450.5 108.5 450.9 117.1 451.4 125.2 451.8 132.8 452.3 139.6 452.7 146.1 453.2 151.5 453.6 156.1 454.0 159.3 454.5 162.0 454.9 163.4 455.4 163.8 455.8 162.5 456.3 159.8 456.7 155.3 457.1 149.9 457.6 143.6 458.0 136.5 458.5 129.2 458.9 121.8 459.4 113.3 459.8 104.9 460.3 97.3 460.7 89.3 461.1 81.7 461.6 75.2 462.0 69.3 462.5 64.1 462.9 60.5 463.4 57.8 463.8 56.4 464.2 56.2 464.7 57.5 465.1 59.7 465.6 64.0 466.0 69.2 466.5 74.9 466.9 81.5 467.3 89.0 467.8 96.8 468.2 104.8 468.7 113.8 469.1 121.9 469.6 130.1 470.0 137.0 470.4 144.4 470.9 150.1 471.3 156.0 471.8 159.7 472.2 162.3 472.7 163.3 473.1 162.8 473.6 160.7 474.0 158.1 474.4 154.3 474.9 149.5 475.3 143.5 475.8 136.7 476.2 129.0 476.7 121.0 477.1 112.6 477.5 104.6 478.0 96.4 478.4 88.2 478.9 81.1 479.3 74.0 479.8 66.6 480.2 61.5 480.6 58.0 481.1 54.8 481.5 53.7 482.0 54.9 482.4 56.3 482.9 59.2 483.3 62.8 483.8 67.6 484.2 73.2 484.6 79.9 485.1 86.6 485.5 94.9 486.0 102.2 486.4 110.4 486.9 118.2 487.3 126.4 487.7 134.2 488.2 141.9 488.6 147.9 489.1 153.1 489.5 157.0 490.0 159.3 490.4 160.9 490.8 161.2 491.3 159.7 491.7 156.8 492.2 152.6 492.6 147.4 493.1 141.3 493.5 134.8 493.9 127.5 494.4 119.8 494.8 111.3 495.3 103.2 495.7 95.1 496.2 86.9 496.6 79.3 497.1 73.5 497.5 67.6 497.9 62.7 498.4 59.3 498.8 57.9 499.3 56.6 499.7 57.0 500.2 58.5 500.6 61.7 501.0 64.5 501.5 68.5 501.9 73.9 502.4 80.3 502.8 87.5 503.3 95.6 503.7 104.7 504.1 112.6 504.6 120.5 505.0 127.7 505.5 135.1 505.9 140.9 506.4 146.6 506.8 152.1 507.2 155.8 507.7 157.7 508.1 159.2 508.6 159.7 509.0 157.6 509.5 154.9 509.9 150.9 510.4 145.7 510.8 140.0 511.2 133.7 511.7 126.8 512.1 119.5 512.6 111.3 513.0 102.2 513.5 94.1 513.9 85.5 514.3 78.5 514.8 72.1 515.2 66.8 515.7 62.7 516.1 60.2 516.6 57.4 517.0 56.2 517.4 56.2 517.9 57.0 518.3 59.3 518.8 63.5 519.2 68.6 519.7 74.3 520.1 81.1 520.5 88.8 521.0 96.4 521.4 104.6 521.9 113.2 522.3 121.8 522.8 129.5 523.2 136.9 523.6 143.9 524.1 150.3 524.5 155.2 525.0 159.2 525.4 161.9 525.9 163.5 526.3 163.5 526.8 161.5 527.2 158.9 527.6 155.7 528.1 149.9 528.5 143.9 529.0 137.5 529.4 129.7 529.9 121.2 530.3 113.6 530.7 105.3 531.2 96.9 531.6 89.1 532.1 81.5 532.5 73.7 533.0 67.5 533.4 62.4 533.8 58.0 534.3 55.4 534.7 55.0 535.2 55.2 535.6 56.9 536.1 59.6 536.5 63.1 537.0 67.9 537.4 73.9 537.8 80.3 538.3 87.6 538.7 95.9 539.2 103.4 539.6 111.3 540.1 119.5 540.5 127.9 540.9 135.2 541.4 142.4 541.8 147.8 542.3 153.0 542.7 156.8 543.2 159.1 543.6 160.6 544.0 161.1 544.5 159.8 544.9 156.9 545.4 152.9 545.8 148.1 546.3 141.6 546.7 134.7 547.1 128.1 547.6 120.9 548.0 112.1 548.5 105.0 548.9 96.5 549.4 88.0 549.8 79.8 550.2 73.4 550.7 66.5 551.1 61.8 551.6 57.9 552.0 56.0 552.5 54.7 552.9 55.3 553.4 56.5 553.8 58.8 554.2 62.4 554.7 67.5 555.1 73.4 555.6 80.1 556.0 89.0 556.5 96.8 556.9 105.5 557.3 114.6 557.8 122.9 558.2 130.6 558.7 138.2 559.1 144.2 559.6 149.4 560.0 154.7 560.4 158.1 560.9 160.1 561.3 161.7 561.8 161.1 562.2 159.1 562.7 156.9 563.1 153.4 563.5 148.9 564.0 143.3 564.4 136.8 564.9 129.0 565.3 121.7 565.8 113.1 566.2 105.0 566.7 96.8 567.1 88.8 567.5 80.7 568.0 74.0 568.4 68.5 568.9 63.8 569.3 59.7 569.8 57.6 570.2 56.7 570.6 56.9 571.1 57.8 571.5 61.3 572.0 64.7 572.4 69.4 572.9 74.9 573.3 82.4 573.7 89.2 574.2 97.1 574.6 105.4 575.1 114.1 575.5 122.1 576.0 130.5 576.4 138.6 576.9 145.5 577.3 151.6 577.7 156.8 578.2 161.0 578.6 163.7 579.1 165.6 579.5 165.3 580.0 164.1 580.4 161.9 580.8 158.0 581.3 152.7 581.7 146.4 582.2 139.5 582.6 131.8 583.1 123.9 583.5 115.8" stroke="#0000ff" stroke-width="2.00" fill="none" stroke-linejoin="round"/>
<path d="M51.5 106.0L51.9 106.8 52.4 109.5 52.8 113.4 53.3 116.1 53.7 118.5 54.2 118.3 54.6 115.6 55.0 111.8 55.5 106.4 55.9 99.2 56.4 93.3 56.8 87.7 57.3 83.4 57.7 80.2 58.1 79.5 58.6 80.7 59.0 85.0 59.5 89.7 59.9 97.2 60.4 105.7 60.8 113.5 61.3 120.9 61.7 128.9 62.1 134.2 62.6 137.9 63.0 138.8 63.5 138.3 63.9 136.7 64.4 134.8 64.8 133.7 65.2 133.7 65.7 133.6 66.1 132.5 66.6 132.1 67.0 129.9 67.5 129.1 67.9 127.6 68.3 124.7 68.8 120.6 69.2 116.2 69.7 111.7 70.1 106.3 70.6 101.4 71.0 95.8 71.5 90.4 71.9 86.5 72.3 83.9 72.8 81.8 73.2 82.3 73.7 84.3 74.1 85.9 74.6 87.3 75.0 89.3 75.4 90.4 75.9 90.8 76.3 92.7 76.8 94.9 77.2 98.7 77.7 103.5 78.1 108.9 78.5 113.9 79.0 120.4 79.4 126.5 79.9 131.9 80.3 137.5 80.8 142.9 81.2 147.0 81.6 148.8 82.1 150.2 82.5 150.3 83.0 149.2 83.4 146.9 83.9 145.5 84.3 142.5 84.8 138.8 85.2 135.3 85.6 132.0 86.1 126.7 86.5 121.2 87.0 115.8 87.4 110.6 87.9 104.6 88.3 99.9 88.7 95.5 89.2 90.8 89.6 86.0 90.1 82.4 90.5 79.5 91.0 77.4 91.4 77.0 91.8 77.5 92.3 78.8 92.7 80.7 93.2 82.5 93.6 85.4 94.1 89.4 94.5 93.8 94.9 99.1 95.4 105.2 95.8 111.0 96.3 117.1 96.7 122.5 97.2 127.9 97.6 132.8 98.0 137.8 98.5 140.9 98.9 145.0 99.4 148.0 99.8 150.7 100.3 151.9 100.7 152.9 101.2 152.9 101.6 151.4 102.0 149.2 102.5 146.6 102.9 143.0 103.4 137.1 103.8 131.9 104.3 126.4 104.7 119.9 105.1 113.3 105.6 107.7 106.0 101.1 106.5 94.9 106.9 89.7 107.4 84.7 107.8 80.7 108.2 78.2 108.7 76.4 109.1 75.7 109.6 75.9 110.0 77.2 110.5 79.2 110.9 81.4 111.3 84.9 111.8 89.5 112.2 93.3 112.7 97.7 113.1 102.7 113.6 107.8 114.0 113.1 114.5 119.3 114.9 124.6 115.3 130.0 115.8 134.9 116.2 138.8 116.7 142.6 117.1 145.4 117.6 148.2 118.0 149.4 118.4 149.6 118.9 148.2 119.3 146.2 119.8 143.8 120.2 140.2 120.7 135.9 121.1 131.2 121.5 126.8 122.0 120.2 122.4 113.6 122.9 108.3 123.3 102.2 123.8 95.3 124.2 89.9 124.7 85.1 125.1 80.3 125.5 76.9 126.0 74.6 126.4 72.1 126.9 71.3 127.3 70.4 127.8 71.3 128.2 72.7 128.6 75.0 129.1 78.2 129.5 83.3 130.0 87.4 130.4 92.8 130.9 98.8 131.3 104.9 131.7 109.9 132.2 116.2 132.6 122.7 133.1 129.0 133.5 134.1 134.0 139.3 134.4 142.9 134.8 145.4 135.3 147.6 135.7 149.0 136.2 149.9 136.6 150.8 137.1 148.8 137.5 146.9 137.9 143.9 138.4 139.1 138.8 133.5 139.3 129.5 139.7 122.5 140.2 117.1 140.6 111.7 141.1 105.6 141.5 98.5 141.9 93.0 142.4 86.8 142.8 81.8 143.3 77.8 143.7 75.5 144.2 73.6 144.6 72.6 145.0 72.4 145.5 73.0 145.9 74.5 146.4 77.3 146.8 80.9 147.3 85.0 147.7 89.7 148.1 94.7 148.6 99.5 149.0 105.5 149.5 111.6 149.9 118.3 150.4 124.3 150.8 130.4 151.2 135.8 151.7 140.3 152.1 143.6 152.6 147.0 153.0 149.9 153.5 150.8 153.9 151.4 154.4 151.1 154.8 149.1 155.2 145.8 155.7 142.6 156.1 138.2 156.6 132.8 157.0 127.1 157.5 121.6 157.9 113.9 158.3 106.5 158.8 99.1 159.2 92.5 159.7 84.6 160.1 79.3 160.6 74.0 161.0 70.4 161.4 66.5 161.9 64.7 162.3 63.2 162.8 62.9 163.2 63.3 163.7 64.8 164.1 67.8 164.6 72.0 165.0 76.9 165.4 82.1 165.9 88.0 166.3 93.9 166.8 100.9 167.2 107.7 167.7 114.2 168.1 121.4 168.5 128.3 169.0 133.4 169.4 139.0 169.9 143.8 170.3 147.6 170.8 149.6 171.2 151.3 171.6 152.1 172.1 151.8 172.5 150.0 173.0 148.2 173.4 145.1 173.9 141.4 174.3 136.1 174.7 130.9 175.2 125.1 175.6 119.0 176.1 111.4 176.5 104.6 177.0 97.8 177.4 90.6 177.8 84.6 178.3 80.0 178.7 75.7 179.2 72.2 179.6 70.1 180.1 68.0 180.5 67.7 181.0 69.1 181.4 70.7 181.8 72.6 182.3 76.6 182.7 79.8 183.2 84.8 183.6 90.5 184.1 97.1 184.5 103.8 184.9 110.6 185.4 116.2 185.8 122.5 186.3 128.2 186.7 132.3 187.2 137.7 187.6 142.7 188.0 146.3 188.5 149.2 188.9 150.8 189.4 150.9 189.8 150.3 190.3 148.8 190.7 144.5 191.2 141.6 191.6 137.3 192.0 131.3 192.5 124.6 192.9 118.9 193.4 112.0 193.8 104.9 194.3 97.5 194.7 90.7 195.1 84.8 195.6 77.9 196.0 71.8 196.5 67.7 196.9 64.2 197.4 61.1 197.8 60.5 198.2 61.2 198.7 62.0 199.1 64.6 199.6 67.7 200.0 72.1 200.5 76.7 200.9 82.6 201.3 87.8 201.8 95.3 202.2 102.5 202.7 110.1 203.1 117.9 203.6 126.0 204.0 132.2 204.4 137.7 204.9 142.4 205.3 147.1 205.8 149.8 206.2 152.1 206.7 154.4 207.1 156.8 207.6 156.2 208.0 155.7 208.4 154.7 208.9 150.9 209.3 145.4 209.8 140.2 210.2 133.8 210.7 125.7 211.1 118.9 211.5 111.5 212.0 104.2 212.4 97.7 212.9 91.4 213.3 85.0 213.8 80.0 214.2 76.1 214.6 72.1 215.1 70.3 215.5 69.2 216.0 68.1 216.4 68.2 216.9 70.9 217.3 73.8 217.8 77.2 218.2 82.6 218.6 87.8 219.1 93.0 219.5 98.9 220.0 106.2 220.4 113.4 220.9 121.7 221.3 129.4 221.7 135.8 222.2 141.6 222.6 146.4 223.1 149.7 223.5 152.8 224.0 155.2 224.4 157.2 224.8 158.2 225.3 158.4 225.7 156.5 226.2 153.9 226.6 149.3 227.1 143.5 227.5 136.5 227.9 130.1 228.4 122.5 228.8 115.5 229.3 108.1 229.7 100.6 230.2 93.5 230.6 86.1 231.1 79.2 231.5 73.2 231.9 68.6 232.4 63.7 232.8 61.1 233.3 59.8 233.7 60.5 234.2 61.4 234.6 63.5 235.0 67.3 235.5 71.2 235.9 75.4 236.4 82.1 236.8 89.0 237.3 96.1 237.7 102.9 238.1 110.6 238.6 117.2 239.0 124.1 239.5 130.8 239.9 137.1 240.4 142.6 240.8 147.1 241.2 151.1 241.7 153.1 242.1 155.0 242.6 155.3 243.0 154.5 243.5 153.0 243.9 150.4 244.3 146.3 244.8 141.6 245.2 136.2 245.7 129.6 246.1 122.5 246.6 114.4 247.0 107.3 247.5 99.4 247.9 92.1 248.3 85.2 248.8 79.5 249.2 73.2 249.7 69.9 250.1 66.3 250.6 64.5 251.0 63.4 251.4 63.9 251.9 64.1 252.3 65.7 252.8 67.6 253.2 72.8 253.7 77.6 254.1 82.9 254.5 89.5 255.0 97.2 255.4 103.7 255.9 111.2 256.3 118.3 256.8 124.9 257.2 131.5 257.6 137.5 258.1 142.6 258.5 147.8 259.0 151.9 259.4 154.8 259.9 156.6 260.3 157.3 260.8 157.3 261.2 155.6 261.6 152.4 262.1 148.6 262.5 143.6 263.0 137.7 263.4 131.0 263.9 123.9 264.3 116.0 264.7 108.1 265.2 100.2 265.6 93.4 266.1 86.9 266.5 80.4 267.0 75.3 267.4 70.3 267.8 66.6 268.3 63.5 268.7 61.6 269.2 61.6 269.6 63.1 270.1 64.6 270.5 67.4 270.9 71.7 271.4 76.7 271.8 81.5 272.3 87.2 272.7 94.8 273.2 101.3 273.6 107.9 274.1 115.2 274.5 122.3 274.9 128.5 275.4 134.4 275.8 139.1 276.3 143.2 276.7 147.5 277.2 150.4 277.6 152.8 278.0 154.8 278.5 153.9 278.9 152.1 279.4 149.0 279.8 145.2 280.3 140.1 280.7 135.2 281.1 129.2 281.6 121.2 282.0 113.6 282.5 106.0 282.9 98.3 283.4 90.0 283.8 83.3 284.2 76.9 284.7 71.0 285.1 66.4 285.6 63.2 286.0 61.1 286.5 59.9 286.9 60.4 287.4 61.4 287.8 64.1 288.2 66.8 288.7 70.4 289.1 75.3 289.6 81.1 290.0 87.1 290.5 94.4 290.9 101.1 291.3 108.5 291.8 116.3 292.2 123.0 292.7 129.6 293.1 136.1 293.6 140.9 294.0 145.0 294.4 148.6 294.9 151.8 295.3 153.7 295.8 155.0 296.2 155.0 296.7 153.4 297.1 150.0 297.6 146.9 298.0 142.0 298.4 135.6 298.9 128.8 299.3 122.1 299.8 113.9 300.2 106.3 300.7 97.7 301.1 90.5 301.5 82.8 302.0 76.0 302.4 69.4 302.9 65.3 303.3 61.9 303.8 59.4 304.2 58.3 304.6 58.0 305.1 59.5 305.5 61.7 306.0 64.9 306.4 68.5 306.9 74.0 307.3 79.7 307.7 86.0 308.2 93.3 308.6 100.2 309.1 107.3 309.5 113.8 310.0 120.8 310.4 127.6 310.9 134.1 311.3 139.5 311.7 144.6 312.2 148.6 312.6 150.9 313.1 153.4 313.5 154.5 314.0 154.7 314.4 153.5 314.8 150.9 315.3 146.7 315.7 141.3 316.2 135.4 316.6 128.5 317.1 122.1 317.5 115.5 317.9 109.3 318.4 101.4 318.8 94.5 319.3 86.6 319.7 78.9 320.2 72.7 320.6 67.5 321.0 63.3 321.5 60.8 321.9 60.0 322.4 59.4 322.8 61.5 323.3 63.4 323.7 67.2 324.1 71.3 324.6 76.4 325.0 81.7 325.5 88.4 325.9 94.8 326.4 101.6 326.8 109.7 327.3 116.9 327.7 123.7 328.1 131.1 328.6 137.5 329.0 143.1 329.5 147.6 329.9 151.9 330.4 154.6 330.8 156.1 331.2 156.5 331.7 156.4 332.1 155.0 332.6 152.2 333.0 149.1 333.5 143.9 333.9 137.6 334.3 130.2 334.8 122.1 335.2 114.0 335.7 106.2 336.1 98.7 336.6 90.7 337.0 83.5 337.4 76.3 337.9 69.8 338.3 64.6 338.8 60.9 339.2 57.9 339.7 56.6 340.1 56.7 340.6 57.0 341.0 58.9 341.4 62.2 341.9 66.2 342.3 70.4 342.8 77.5 343.2 84.2 343.7 91.6 344.1 97.7 344.5 105.4 345.0 111.8 345.4 118.8 345.9 124.8 346.3 131.5 346.8 137.3 347.2 142.5 347.6 146.3 348.1 149.2 348.5 150.9 349.0 151.4 349.4 150.5 349.9 149.3 350.3 146.8 350.8 143.7 351.2 139.2 351.6 133.5 352.1 127.0 352.5 120.9 353.0 113.2 353.4 106.0 353.9 99.3 354.3 93.4 354.7 86.5 355.2 80.7 355.6 75.2 356.1 70.8 356.5 66.5 357.0 64.3 357.4 62.9 357.8 63.7 358.3 64.5 358.7 66.6 359.2 69.4 359.6 74.4 360.1 78.7 360.5 84.5 360.9 90.5 361.4 97.1 361.8 103.1 362.3 111.1 362.7 117.7 363.2 124.3 363.6 131.3 364.1 137.3 364.5 142.1 364.9 146.7 365.4 151.0 365.8 154.1 366.3 156.1 366.7 156.0 367.2 155.9 367.6 153.8 368.0 150.9 368.5 148.1 368.9 144.2 369.4 138.2 369.8 132.9 370.3 126.0 370.7 118.9 371.1 111.3 371.6 104.1 372.0 96.7 372.5 89.8 372.9 82.3 373.4 76.8 373.8 73.0 374.2 69.5 374.7 67.6 375.1 66.5 375.6 66.6 376.0 66.7 376.5 67.8 376.9 70.3 377.4 74.7 377.8 78.8 378.2 84.6 378.7 90.9 379.1 97.9 379.6 104.1 380.0 111.7 380.5 119.6 380.9 126.7 381.3 132.4 381.8 137.9 382.2 143.0 382.7 147.2 383.1 149.8 383.6 152.7 384.0 155.5 384.4 156.5 384.9 156.0 385.3 154.6 385.8 152.0 386.2 148.1 386.7 143.0 387.1 136.1 387.5 130.3 388.0 122.8 388.4 115.0 388.9 107.0 389.3 100.2 389.8 92.3 390.2 84.8 390.6 78.5 391.1 73.3 391.5 68.7 392.0 65.2 392.4 63.3 392.9 62.0 393.3 61.5 393.8 62.5 394.2 64.2 394.6 67.0 395.1 70.8 395.5 75.4 396.0 79.9 396.4 86.2 396.9 93.1 397.3 99.3 397.7 106.5 398.2 114.0 398.6 121.3 399.1 127.4 399.5 134.1 400.0 139.4 400.4 143.5 400.8 146.6 401.3 148.9 401.7 150.2 402.2 150.9 402.6 150.8 403.1 149.5 403.5 147.1 403.9 143.5 404.4 138.9 404.8 133.0 405.3 126.7 405.7 120.5 406.2 114.1 406.6 106.6 407.1 99.7 407.5 92.8 407.9 86.3 408.4 80.0 408.8 75.0 409.3 70.6 409.7 67.2 410.2 64.7 410.6 63.3 411.0 62.9 411.5 63.9 411.9 66.2 412.4 69.0 412.8 72.5 413.3 77.2 413.7 83.0 414.1 89.0 414.6 96.5 415.0 103.6 415.5 111.9 415.9 119.2 416.4 126.2 416.8 132.1 417.2 138.5 417.7 143.6 418.1 148.7 418.6 152.7 419.0 155.9 419.5 157.7 419.9 158.2 420.4 157.5 420.8 155.7 421.2 152.6 421.7 149.2 422.1 144.3 422.6 137.6 423.0 130.9 423.5 124.5 423.9 116.4 424.3 109.2 424.8 102.3 425.2 94.5 425.7 86.7 426.1 81.3 426.6 75.2 427.0 69.8 427.4 66.9 427.9 65.1 428.3 62.5 428.8 62.8 429.2 64.3 429.7 66.1 430.1 70.0 430.6 74.4 431.0 79.0 431.4 84.3 431.9 89.5 432.3 95.0 432.8 102.1 433.2 108.8 433.7 116.0 434.1 123.2 434.5 130.5 435.0 136.7 435.4 143.1 435.9 147.5 436.3 151.6 436.8 154.1 437.2 155.7 437.6 155.9 438.1 156.1 438.5 154.6 439.0 151.8 439.4 147.1 439.9 141.9 440.3 136.1 440.7 129.8 441.2 122.1 441.6 115.1 442.1 107.5 442.5 99.4 443.0 91.2 443.4 85.2 443.9 79.3 444.3 74.6 444.7 70.0 445.2 67.1 445.6 64.4 446.1 63.0 446.5 61.9 447.0 63.1 447.4 65.2 447.8 67.5 448.3 71.6 448.7 77.1 449.2 81.6 449.6 87.7 450.1 95.0 450.5 101.8 450.9 108.4 451.4 116.1 451.8 122.5 452.3 128.6 452.7 134.5 453.2 140.4 453.6 145.3 454.0 148.7 454.5 151.4 454.9 153.1 455.4 153.0 455.8 152.9 456.3 151.8 456.7 149.8 457.1 145.8 457.6 141.0 458.0 134.9 458.5 127.7 458.9 119.1 459.4 110.7 459.8 103.0 460.3 95.3 460.7 88.1 461.1 82.0 461.6 75.8 462.0 69.7 462.5 64.4 462.9 60.2 463.4 57.1 463.8 55.8 464.2 56.1 464.7 56.6 465.1 58.4 465.6 62.2 466.0 66.8 466.5 72.0 466.9 78.7 467.3 85.3 467.8 91.8 468.2 98.6 468.7 105.6 469.1 112.9 469.6 120.6 470.0 128.0 470.4 135.0 470.9 142.0 471.3 147.6 471.8 151.3 472.2 154.8 472.7 157.0 473.1 156.7 473.6 156.3 474.0 155.5 474.4 151.9 474.9 147.5 475.3 142.7 475.8 137.1 476.2 130.2 476.7 123.5 477.1 115.9 477.5 108.1 478.0 99.8 478.4 92.5 478.9 85.3 479.3 79.7 479.8 74.2 480.2 69.6 480.6 66.2 481.1 64.2 481.5 62.4 482.0 63.0 482.4 64.1 482.9 65.8 483.3 68.9 483.8 72.8 484.2 76.6 484.6 81.9 485.1 87.7 485.5 93.9 486.0 100.9 486.4 108.5 486.9 115.7 487.3 122.0 487.7 127.9 488.2 133.1 488.6 137.8 489.1 143.2 489.5 148.0 490.0 151.5 490.4 153.5 490.8 154.1 491.3 153.3 491.7 151.6 492.2 148.4 492.6 145.2 493.1 141.1 493.5 135.3 493.9 128.4 494.4 121.8 494.8 113.6 495.3 105.6 495.7 97.4 496.2 89.6 496.6 82.5 497.1 76.8 497.5 71.0 497.9 66.9 498.4 64.1 498.8 61.3 499.3 59.6 499.7 60.1 500.2 60.8 500.6 62.4 501.0 65.0 501.5 70.0 501.9 74.0 502.4 79.2 502.8 86.3 503.3 94.2 503.7 100.5 504.1 108.5 504.6 116.1 505.0 122.5 505.5 128.8 505.9 135.2 506.4 140.5 506.8 145.0 507.2 148.6 507.7 150.7 508.1 152.6 508.6 153.6 509.0 152.7 509.5 151.6 509.9 149.4 510.4 146.2 510.8 141.1 511.2 136.8 511.7 131.0 512.1 124.9 512.6 117.5 513.0 110.5 513.5 103.5 513.9 96.6 514.3 89.4 514.8 83.6 515.2 78.7 515.7 73.9 516.1 70.6 516.6 67.9 517.0 66.5 517.4 65.6 517.9 65.9 518.3 67.8 518.8 71.1 519.2 74.9 519.7 80.5 520.1 86.6 520.5 92.5 521.0 98.9 521.4 105.3 521.9 112.4 522.3 119.6 522.8 126.2 523.2 132.6 523.6 140.1 524.1 144.6 524.5 149.3 525.0 152.7 525.4 156.2 525.9 157.4 526.3 158.6 526.8 157.7 527.2 156.7 527.6 154.7 528.1 150.2 528.5 145.9 529.0 141.0 529.4 134.9 529.9 127.6 530.3 120.9 530.7 113.0 531.2 105.2 531.6 97.4 532.1 89.8 532.5 83.5 533.0 77.6 533.4 72.2 533.8 68.1 534.3 65.4 534.7 63.2 535.2 62.6 535.6 63.4 536.1 65.1 536.5 68.2 537.0 72.3 537.4 76.7 537.8 82.0 538.3 88.0 538.7 95.1 539.2 101.8 539.6 110.4 540.1 117.5 540.5 124.7 540.9 130.1 541.4 135.9 541.8 139.3 542.3 144.1 542.7 147.4 543.2 149.9 543.6 151.5 544.0 152.5 544.5 152.0 544.9 151.3 545.4 148.4 545.8 144.4 546.3 139.7 546.7 133.7 547.1 126.4 547.6 120.1 548.0 113.0 548.5 105.4 548.9 98.5 549.4 91.3 549.8 84.2 550.2 77.9 550.7 72.0 551.1 66.8 551.6 63.1 552.0 59.3 552.5 58.0 552.9 57.9 553.4 59.5 553.8 61.6 554.2 65.2 554.7 68.7 555.1 74.2 555.6 79.6 556.0 85.8 556.5 93.3 556.9 100.7 557.3 108.3 557.8 115.1 558.2 122.4 558.7 129.1 559.1 136.2 559.6 141.6 560.0 147.0 560.4 151.3 560.9 154.5 561.3 156.2 561.8 156.8 562.2 155.9 562.7 155.2 563.1 152.8 563.5 149.3 564.0 144.6 564.4 139.9 564.9 132.1 565.3 124.3 565.8 116.1 566.2 108.2 566.7 99.6 567.1 92.1 567.5 84.8 568.0 78.4 568.4 72.1 568.9 67.9 569.3 63.7 569.8 62.4 570.2 60.9 570.6 61.5 571.1 61.6 571.5 64.7 572.0 65.9 572.4 70.3 572.9 73.8 573.3 79.6 573.7 85.2 574.2 92.4 574.6 98.0 575.1 105.6 575.5 113.7 576.0 120.2 576.4 126.9 576.9 134.5 577.3 140.0 577.7 144.3 578.2 148.6 578.6 151.4 579.1 152.9 579.5 153.7 580.0 153.2 580.4 151.7 580.8 149.2 581.3 145.2 581.7 139.8 582.2 133.7 582.6 127.7 583.1 120.5 583.5 113.1" stroke="#ff0000" stroke-width="2.00" fill="none" stroke-linejoin="round"/>
<path d="M582.50 115.50H585" stroke="#0000ff" stroke-width="2"/>
<text x="317.50" y="244.10" font-size="12.4" text-anchor="middle" font-weight="normal" fill="#262626">Time [s]</text>
<text x="0.00" y="0.00" font-size="12.35" text-anchor="middle" font-weight="normal" fill="#262626" transform="translate(25.9 114.00) rotate(-90)">CoP [% of foot length]</text>
<text x="317.70" y="9.80" font-size="12.3" text-anchor="middle" font-weight="bold" fill="#000">Periodic</text>
<text x="3.00" y="22.00" font-size="17" text-anchor="start" font-weight="normal" fill="#000">A</text>
<path d="M361.83 15.50V212.50" stroke="#000" stroke-width="1.6" stroke-dasharray="1.3 1.3"/>
<path d="M450.50 15.50V212.50" stroke="#000" stroke-width="1.6" stroke-dasharray="1.3 1.3"/>
<path d="M361.83 212.50L51.50 276.00" stroke="#000" stroke-width="1" stroke-dasharray="3 1.3"/>
<path d="M450.50 212.50L583.50 276.00" stroke="#333" stroke-width="0.9"/>
<path d="M596.5 21.50H622.5" stroke="#000000" stroke-width="2"/>
<text x="625.00" y="25.50" font-size="11" text-anchor="start" font-weight="normal" fill="#000">Target</text>
<path d="M596.5 36.20H622.5" stroke="#0000ff" stroke-width="2"/>
<text x="625.00" y="40.20" font-size="11" text-anchor="start" font-weight="normal" fill="#000">Stable</text>
<path d="M596.5 50.90H622.5" stroke="#ff0000" stroke-width="2"/>
<text x="625.00" y="54.90" font-size="11" text-anchor="start" font-weight="normal" fill="#000">Unstable</text>
<rect x="51.50" y="276.00" width="532.00" height="83.50" fill="none" stroke="#929292" stroke-width="1.3"/>
<path d="M51.50 359.50V355.50M51.50 276.00V280.00M104.70 359.50V355.50M104.70 276.00V280.00M157.90 359.50V355.50M157.90 276.00V280.00M211.10 359.50V355.50M211.10 276.00V280.00M264.30 359.50V355.50M264.30 276.00V280.00M317.50 359.50V355.50M317.50 276.00V280.00M370.70 359.50V355.50M370.70 276.00V280.00M423.90 359.50V355.50M423.90 276.00V280.00M477.10 359.50V355.50M477.10 276.00V280.00M530.30 359.50V355.50M530.30 276.00V280.00M583.50 359.50V355.50M583.50 276.00V280.00M51.50 276.00H55.50M583.50 276.00H579.50M51.50 296.88H55.50M583.50 296.88H579.50M51.50 317.75H55.50M583.50 317.75H579.50M51.50 338.62H55.50M583.50 338.62H579.50M51.50 359.50H55.50M583.50 359.50H579.50" stroke="#929292" stroke-width="1" fill="none"/>
<text x="51.50" y="370.80" font-size="8" text-anchor="middle" font-weight="normal" fill="#262626">70</text>
<text x="104.70" y="370.80" font-size="8" text-anchor="middle" font-weight="normal" fill="#262626">72</text>
<text x="157.90" y="370.80" font-size="8" text-anchor="middle" font-weight="normal" fill="#262626">74</text>
<text x="211.10" y="370.80" font-size="8" text-anchor="middle" font-weight="normal" fill="#262626">76</text>
<text x="264.30" y="370.80" font-size="8" text-anchor="middle" font-weight="normal" fill="#262626">78</text>
<text x="317.50" y="370.80" font-size="8" text-anchor="middle" font-weight="normal" fill="#262626">80</text>
<text x="370.70" y="370.80" font-size="8" text-anchor="middle" font-weight="normal" fill="#262626">82</text>
<text x="423.90" y="370.80" font-size="8" text-anchor="middle" font-weight="normal" fill="#262626">84</text>
<text x="477.10" y="370.80" font-size="8" text-anchor="middle" font-weight="normal" fill="#262626">86</text>
<text x="530.30" y="370.80" font-size="8" text-anchor="middle" font-weight="normal" fill="#262626">88</text>
<text x="583.50" y="370.80" font-size="8" text-anchor="middle" font-weight="normal" fill="#262626">90</text>
<text x="48.50" y="279.00" font-size="8" text-anchor="end" font-weight="normal" fill="#262626">40</text>
<text x="48.50" y="299.88" font-size="8" text-anchor="end" font-weight="normal" fill="#262626">20</text>
<text x="48.50" y="320.75" font-size="8" text-anchor="end" font-weight="normal" fill="#262626">0</text>
<text x="48.50" y="341.62" font-size="8" text-anchor="end" font-weight="normal" fill="#262626">-20</text>
<text x="48.50" y="362.50" font-size="8" text-anchor="end" font-weight="normal" fill="#262626">-40</text>
<path d="M51.6 315.5L52.6 316.8 53.5 318.0 54.5 319.1 55.4 320.0 56.3 320.7 57.2 321.4 58.1 322.1 59.0 322.7 59.9 323.2 60.8 323.8 61.7 324.5 62.5 325.3 63.3 326.3 64.1 327.4 65.0 328.8 65.9 330.5 66.8 332.1 67.7 333.4 68.6 334.5 69.6 335.4 70.5 336.3 71.5 337.0 72.4 337.6 73.4 338.2 74.3 338.7 75.3 339.2 76.2 339.5 77.2 339.7 78.2 339.8 79.1 339.9 80.1 339.9 81.0 340.0 82.0 340.0 82.9 339.9 83.9 339.6 84.8 339.2 85.8 338.7 86.7 338.2 87.7 337.6 88.6 337.0 89.6 336.2 90.5 335.4 91.5 334.6 92.5 333.7 93.4 332.8 94.4 331.8 95.3 330.8 96.3 329.8 97.2 328.9 98.2 328.0 99.1 327.1 100.1 326.1 101.0 325.1 101.9 324.0 102.8 322.9 103.7 321.7 104.6 320.3 105.6 318.6 106.5 316.7 107.5 314.7 108.4 312.7 109.4 310.8 110.4 309.0 111.3 307.2 112.3 305.4 113.2 303.8 114.2 302.4 115.1 301.2 116.1 300.0 117.0 298.9 118.0 298.0 118.9 297.2 119.8 296.6 120.7 296.0 121.6 295.5 122.5 295.0 123.3 294.6 124.2 294.2 125.1 293.8 126.0 293.5 126.9 293.2 127.8 292.9 128.7 292.6 129.6 292.3 130.4 292.1 131.3 291.9 132.2 291.7 133.1 291.7 134.0 291.8 134.9 292.2 135.8 292.6 136.7 293.3 137.6 293.9 138.5 294.6 139.4 295.3 140.3 295.9 141.2 296.4 142.2 297.0 143.1 297.5 144.1 298.1 145.0 298.8 146.0 299.7 147.0 300.8 148.0 302.0 149.0 303.3 150.0 304.7 151.0 306.0 151.9 307.2 152.8 308.5 153.7 309.8 154.6 311.2 155.5 312.6 156.4 314.0 157.3 315.3 158.2 316.7 159.1 318.1 160.0 319.5 160.9 321.0 161.8 322.5 162.6 323.9 163.5 325.2 164.4 326.4 165.3 327.4 166.3 328.3 167.2 329.1 168.2 329.8 169.1 330.4 170.1 331.0 171.1 331.6 172.1 332.0 173.1 332.5 174.0 332.9 175.0 333.4 176.0 334.0 176.9 334.7 177.8 335.4 178.7 336.2 179.6 337.0 180.5 337.9 181.4 338.9 182.3 339.7 183.2 340.0 184.2 339.9 185.2 339.8 186.2 339.6 187.2 339.3 188.2 339.0 189.2 338.8 190.1 338.6 191.1 338.3 192.0 338.1 193.0 337.8 193.9 337.6 194.8 337.4 195.8 337.2 196.7 337.0 197.7 336.8 198.6 336.5 199.5 336.0 200.4 335.1 201.4 334.0 202.3 332.7 203.2 331.3 204.1 329.8 205.1 328.2 206.0 326.6 206.9 325.1 207.9 323.5 208.9 321.7 209.9 319.9 210.9 318.0 211.9 316.1 212.9 314.3 213.9 312.4 214.9 310.3 215.9 308.3 216.8 306.4 217.8 304.8 218.8 303.6 219.8 302.8 220.8 302.2 221.8 301.7 222.8 301.2 223.8 300.7 224.8 300.0 225.8 299.1 226.8 298.1 227.8 297.0 228.8 295.9 229.8 294.9 230.8 294.1 231.7 293.6 232.6 293.1 233.4 292.7 234.3 292.3 235.1 291.8 236.0 291.1 236.8 290.5 237.7 290.1 238.5 289.9 239.3 290.0 240.2 290.3 241.0 290.8 241.9 291.3 242.7 291.7 243.7 292.2 244.7 292.6 245.7 293.1 246.7 293.6 247.7 294.1 248.7 294.7 249.7 295.4 250.7 296.2 251.6 297.0 252.6 298.0 253.6 298.9 254.6 300.0 255.5 301.0 256.3 302.1 257.2 303.3 258.0 304.6 258.9 305.9 259.7 307.2 260.6 308.4 261.6 309.8 262.6 311.2 263.6 312.7 264.5 314.1 265.5 315.4 266.5 316.7 267.4 317.7 268.2 318.6 269.1 319.6 270.0 320.5 270.9 321.5 271.8 322.6 272.7 323.6 273.6 324.7 274.5 325.7 275.4 326.7 276.3 327.7 277.2 328.6 278.1 329.5 279.0 330.3 279.9 331.1 280.8 331.9 281.6 332.7 282.5 333.4 283.4 334.0 284.3 334.6 285.2 335.1 286.2 335.7 287.1 336.2 288.0 336.8 289.0 337.2 289.9 337.6 290.8 337.9 291.8 338.1 292.7 338.2 293.6 338.1 294.5 337.9 295.4 337.6 296.2 337.2 297.1 336.7 298.0 336.2 298.9 335.7 299.8 335.2 300.8 334.6 301.8 333.8 302.8 333.0 303.8 332.1 304.8 331.3 305.8 330.4 306.8 329.6 307.8 328.8 308.8 328.0 309.7 327.1 310.7 326.2 311.7 325.1 312.7 323.8 313.7 322.3 314.7 320.6 315.7 318.9 316.7 317.2 317.7 315.5 318.7 313.9 319.7 312.2 320.7 310.5 321.7 308.9 322.7 307.3 323.7 306.0 324.7 304.8 325.7 303.7 326.6 302.7 327.6 301.8 328.6 300.9 329.6 300.0 330.6 299.1 331.6 298.3 332.6 297.5 333.6 296.7 334.6 296.0 335.6 295.3 336.6 294.6 337.6 294.0 338.6 293.3 339.5 292.7 340.5 292.2 341.5 291.7 342.5 291.3 343.4 290.8 344.4 290.4 345.3 290.1 346.3 289.9 347.2 289.8 348.1 289.6 349.1 289.5 350.0 289.5 350.7 289.7 351.5 290.1 352.2 290.5 353.1 291.0 354.1 291.6 355.1 292.2 356.0 292.8 356.9 293.5 357.9 294.2 358.8 295.0 359.8 295.8 360.8 296.7 361.7 297.6 362.6 298.6 363.5 299.8 364.4 301.1 365.2 302.5 366.1 303.9 367.0 305.4 367.9 306.9 368.8 308.4 369.8 310.0 370.7 311.7 371.7 313.4 372.6 315.1 373.6 316.8 374.6 318.6 375.5 320.3 376.5 322.0 377.4 323.6 378.4 325.1 379.4 326.7 380.4 328.4 381.4 330.0 382.3 331.5 383.3 332.6 384.3 333.4 385.2 333.8 386.1 334.0 387.0 334.3 387.9 334.6 388.9 335.1 389.8 335.7 390.8 336.4 391.7 337.1 392.7 337.6 393.7 338.0 394.6 338.4 395.6 338.8 396.5 339.1 397.5 339.4 398.4 339.7 399.4 340.0 400.3 340.3 401.3 340.5 402.2 340.6 403.2 340.6 404.1 340.5 405.1 340.4 406.0 340.2 407.0 340.0 408.0 339.6 408.9 338.8 409.9 337.9 410.8 336.8 411.8 335.8 412.7 334.8 413.7 333.6 414.6 332.4 415.6 331.1 416.5 329.8 417.4 328.5 418.2 327.2 419.1 325.9 420.0 324.5 421.0 322.9 422.0 321.4 423.0 319.8 424.0 318.2 425.0 316.7 426.0 315.3 427.0 313.9 428.0 312.5 428.9 311.1 429.9 309.8 430.9 308.5 431.9 307.2 432.9 305.9 433.8 304.6 434.8 303.2 435.7 301.8 436.7 300.5 437.7 299.2 438.6 298.1 439.6 297.0 440.5 296.1 441.5 295.3 442.5 294.6 443.5 294.0 444.4 293.4 445.4 292.9 446.4 292.5 447.4 292.3 448.4 292.1 449.4 292.0 450.4 291.9 451.4 291.8 452.4 291.7 453.4 291.7 454.3 292.0 455.2 292.6 456.1 293.2 457.0 293.5 457.9 293.4 458.8 293.2 459.6 293.0 460.5 292.9 461.4 293.0 462.3 293.2 463.2 293.5 464.1 294.0 465.0 294.5 465.9 295.1 466.8 295.8 467.7 296.5 468.6 297.4 469.5 298.8 470.4 300.4 471.2 302.3 472.1 304.2 473.0 306.2 473.9 308.0 474.8 309.6 475.7 311.1 476.6 312.5 477.5 313.8 478.4 315.2 479.3 316.5 480.2 317.8 481.1 319.0 482.0 320.3 482.9 321.6 483.8 322.8 484.7 324.0 485.6 325.2 486.5 326.4 487.4 327.6 488.3 328.7 489.2 329.8 490.2 331.1 491.2 332.4 492.1 333.6 493.1 334.8 494.1 335.8 495.1 336.5 496.1 337.0 497.1 337.4 498.0 337.7 499.0 338.0 500.0 338.3 501.0 338.6 502.0 338.9 503.0 339.2 504.0 339.5 504.9 339.7 505.9 340.0 506.8 340.1 507.7 340.2 508.6 340.1 509.5 339.8 510.4 339.3 511.2 338.7 512.1 338.0 513.0 337.3 513.9 336.6 514.8 335.9 515.7 335.3 516.6 334.7 517.5 334.1 518.3 333.4 519.2 332.7 520.1 332.0 521.0 331.2 521.9 330.3 522.9 329.2 523.8 327.9 524.8 326.5 525.7 324.9 526.6 323.4 527.6 321.8 528.5 320.2 529.5 318.5 530.4 316.8 531.3 315.1 532.3 313.4 533.2 311.8 534.1 310.4 535.0 309.0 535.9 307.6 536.8 306.3 537.6 305.0 538.5 303.7 539.4 302.4 540.3 301.2 541.2 299.9 542.1 298.6 543.0 297.2 543.8 295.9 544.7 294.7 545.6 293.6 546.5 292.7 547.4 292.0 548.3 291.5 549.2 291.0 550.1 290.5 551.0 290.1 551.8 289.7 552.7 289.4 553.6 289.3 554.5 289.2 555.4 289.3 556.4 289.7 557.3 290.1 558.2 290.6 559.2 291.0 560.1 291.3 561.0 291.4 562.0 291.5 563.0 291.6 563.9 291.7 564.8 291.8 565.8 292.0 566.8 292.3 567.7 292.9 568.6 293.6 569.6 294.5 570.5 295.4 571.5 296.3 572.4 297.2 573.4 298.3 574.3 299.5 575.2 300.7 576.2 302.0 577.1 303.3 578.0 304.6 578.9 306.0 579.8 307.4 580.8 308.9 581.7 310.4 582.6 311.9 583.5 313.3" stroke="#ff0000" stroke-width="2.00" fill="none" stroke-linejoin="round" clip-path="url(#cz)"/>
<path d="M51.6 313.1L52.5 314.7 53.4 316.4 54.2 318.1 55.1 319.7 56.0 321.2 56.9 322.7 57.9 324.2 58.9 325.7 59.9 327.1 60.9 328.4 61.9 329.7 62.9 331.0 63.9 332.3 64.9 333.6 65.8 334.9 66.8 336.1 67.8 337.2 68.8 338.2 69.8 339.1 70.8 339.9 71.8 340.6 72.8 341.3 73.8 341.9 74.8 342.3 75.8 342.7 76.8 343.1 77.8 343.4 78.8 343.7 79.8 343.8 80.8 343.9 81.8 343.8 82.8 343.7 83.8 343.4 84.7 343.1 85.7 342.7 86.7 342.3 87.7 341.7 88.7 340.8 89.7 339.6 90.7 338.4 91.7 337.1 92.7 335.8 93.7 334.6 94.7 333.3 95.7 331.9 96.7 330.5 97.7 329.0 98.7 327.4 99.7 325.6 100.7 323.6 101.7 321.5 102.6 319.4 103.6 317.3 104.6 315.5 105.6 313.9 106.6 312.3 107.6 310.9 108.6 309.5 109.6 308.1 110.6 306.6 111.6 305.1 112.6 303.6 113.5 302.1 114.5 300.5 115.5 299.0 116.5 297.5 117.4 296.1 118.2 294.6 119.1 293.2 120.0 292.2 121.0 291.4 122.0 290.7 123.0 290.1 124.0 289.6 125.0 289.3 126.0 289.0 127.0 288.8 128.0 288.6 128.9 288.4 129.9 288.2 130.9 288.1 131.9 288.1 132.9 288.1 133.9 288.3 134.8 288.4 135.8 288.7 136.8 289.0 137.8 289.4 138.8 289.8 139.8 290.2 140.7 290.7 141.7 291.2 142.7 291.7 143.6 292.3 144.5 293.1 145.4 294.1 146.2 295.2 147.1 296.3 148.0 297.6 148.9 298.8 149.8 300.0 150.8 301.3 151.7 302.6 152.7 304.0 153.6 305.4 154.6 306.9 155.5 308.4 156.5 309.9 157.4 311.3 158.4 312.8 159.3 314.3 160.2 315.7 161.2 317.2 162.1 318.7 163.0 320.1 164.0 321.6 164.9 323.1 165.8 324.5 166.8 326.0 167.7 327.4 168.6 328.8 169.5 330.3 170.5 331.9 171.4 333.4 172.3 334.9 173.2 336.3 174.2 337.5 175.1 338.6 176.0 339.4 177.0 340.1 178.0 340.8 178.9 341.5 179.9 342.2 180.9 342.8 181.9 343.3 182.9 343.8 183.9 344.2 184.8 344.5 185.8 344.6 186.8 344.7 187.7 344.6 188.6 344.4 189.5 344.1 190.4 343.8 191.2 343.3 192.1 342.8 193.0 342.3 193.9 341.7 194.8 341.1 195.6 340.2 196.5 339.3 197.4 338.2 198.3 337.0 199.1 335.8 200.0 334.6 201.0 333.1 202.0 331.5 203.0 329.8 203.9 328.0 204.9 326.2 205.9 324.4 206.9 322.7 207.9 321.0 208.9 319.2 209.9 317.5 210.9 315.7 211.9 314.0 212.9 312.2 213.8 310.5 214.8 308.8 215.8 307.1 216.8 305.5 217.8 303.9 218.8 302.4 219.8 300.9 220.7 299.3 221.7 297.7 222.6 296.1 223.6 294.5 224.6 293.1 225.5 291.8 226.5 290.7 227.4 289.9 228.4 289.3 229.3 288.9 230.3 288.5 231.2 288.2 232.2 287.9 233.2 287.6 234.1 287.4 235.1 287.2 236.0 287.0 237.0 286.9 237.9 286.9 238.9 286.9 239.8 287.0 240.8 287.2 241.7 287.4 242.7 287.6 243.7 287.9 244.6 288.2 245.6 288.5 246.5 288.9 247.5 289.3 248.4 289.8 249.4 290.5 250.3 291.4 251.3 292.4 252.2 293.5 253.2 294.7 254.2 296.0 255.1 297.3 256.1 298.7 257.0 300.0 257.9 301.4 258.9 302.9 259.9 304.5 260.8 306.2 261.8 307.9 262.7 309.7 263.6 311.5 264.6 313.3 265.6 315.0 266.5 316.7 267.4 318.3 268.3 319.8 269.2 321.4 270.2 322.9 271.1 324.5 272.0 326.0 272.9 327.6 273.9 329.4 274.8 331.1 275.8 332.9 276.7 334.5 277.6 336.0 278.6 337.2 279.5 338.2 280.4 338.9 281.3 339.6 282.2 340.2 283.1 340.8 284.0 341.3 284.9 341.7 285.8 342.0 286.7 342.3 287.6 342.5 288.5 342.7 289.4 343.0 290.2 343.1 291.1 343.3 292.0 343.4 292.9 343.5 293.8 343.5 294.8 343.5 295.8 343.3 296.8 343.2 297.8 342.9 298.8 342.6 299.8 342.3 300.8 341.8 301.8 340.9 302.8 339.8 303.8 338.5 304.8 337.1 305.8 335.8 306.8 334.4 307.8 332.9 308.8 331.3 309.7 329.6 310.7 327.9 311.7 326.3 312.7 324.7 313.6 323.2 314.6 321.6 315.5 320.1 316.5 318.5 317.5 317.0 318.4 315.4 319.4 313.9 320.3 312.3 321.3 310.8 322.3 309.2 323.2 307.6 324.2 305.9 325.2 304.2 326.2 302.5 327.1 300.8 328.1 299.2 329.1 297.8 330.1 296.4 331.0 295.2 332.0 294.1 332.9 293.2 333.8 292.3 334.7 291.5 335.6 290.7 336.5 290.1 337.4 289.5 338.3 289.0 339.2 288.7 340.1 288.5 341.1 288.2 342.0 288.1 343.0 287.9 343.9 287.9 344.8 288.0 345.6 288.1 346.5 288.3 347.4 288.6 348.3 288.9 349.1 289.3 350.0 289.6 351.0 290.0 351.9 290.4 352.9 290.8 353.9 291.3 354.9 291.8 355.9 292.3 356.8 292.9 357.8 293.5 358.8 294.2 359.8 294.9 360.7 295.7 361.7 296.5 362.6 297.4 363.5 298.6 364.4 299.9 365.2 301.3 366.1 302.8 367.0 304.3 367.9 305.8 368.8 307.2 369.8 308.7 370.8 310.2 371.8 311.7 372.8 313.1 373.8 314.6 374.8 316.1 375.8 317.6 376.8 319.1 377.8 320.6 378.8 322.1 379.8 323.6 380.8 325.1 381.8 326.6 382.7 328.3 383.7 330.0 384.6 331.8 385.6 333.5 386.5 335.1 387.4 336.7 388.4 338.0 389.4 339.1 390.3 340.0 391.2 340.7 392.2 341.3 393.1 342.0 394.0 342.6 395.0 343.1 395.9 343.5 396.8 343.8 397.8 344.0 398.7 344.1 399.6 344.1 400.5 343.9 401.5 343.8 402.4 343.5 403.3 343.2 404.2 342.9 405.2 342.5 406.1 342.1 407.0 341.7 407.9 341.2 408.9 340.4 409.9 339.5 410.8 338.5 411.8 337.3 412.7 336.1 413.6 334.8 414.6 333.5 415.6 332.2 416.5 331.0 417.4 329.8 418.2 328.6 419.1 327.3 420.0 326.0 421.0 324.5 422.0 322.9 423.0 321.2 424.0 319.5 425.0 317.8 425.9 316.1 426.9 314.3 427.9 312.6 428.9 310.9 429.9 309.2 430.9 307.6 431.9 306.0 432.9 304.4 433.8 302.8 434.8 301.1 435.7 299.4 436.7 297.7 437.7 296.2 438.6 294.7 439.6 293.5 440.5 292.5 441.5 291.7 442.4 291.2 443.3 290.6 444.2 290.2 445.1 289.8 445.9 289.4 446.8 289.1 447.7 288.9 448.6 288.7 449.6 288.5 450.6 288.4 451.6 288.3 452.6 288.2 453.6 288.1 454.6 288.1 455.5 288.2 456.4 288.4 457.3 288.8 458.1 289.2 459.0 289.8 459.9 290.4 460.8 291.0 461.7 291.7 462.6 292.5 463.6 293.6 464.5 294.9 465.4 296.4 466.4 298.0 467.3 299.7 468.2 301.4 469.2 303.1 470.1 304.8 471.1 306.5 472.0 308.4 473.0 310.4 473.9 312.4 474.9 314.5 475.8 316.5 476.8 318.6 477.7 320.5 478.7 322.3 479.6 323.9 480.6 325.5 481.5 327.0 482.5 328.5 483.4 330.0 484.4 331.3 485.4 332.7 486.3 333.9 487.3 335.1 488.2 336.1 489.2 337.0 490.2 337.8 491.1 338.6 492.1 339.3 493.1 339.9 494.0 340.4 495.0 340.9 495.9 341.2 496.8 341.6 497.7 341.8 498.6 342.1 499.4 342.3 500.3 342.5 501.2 342.8 502.1 343.0 503.0 343.3 504.0 343.6 504.9 343.9 505.8 344.1 506.8 344.3 507.7 344.4 508.6 344.3 509.6 343.8 510.5 343.2 511.5 342.4 512.4 341.5 513.4 340.5 514.3 339.4 515.3 338.3 516.2 337.3 517.1 336.3 518.0 335.2 518.9 334.1 519.8 332.8 520.6 331.5 521.5 330.2 522.4 328.8 523.3 327.4 524.2 325.8 525.2 324.1 526.1 322.4 527.1 320.5 528.0 318.7 529.0 316.9 529.9 315.1 530.9 313.4 531.8 311.8 532.7 310.3 533.7 308.8 534.6 307.4 535.6 306.0 536.5 304.6 537.5 303.3 538.4 302.1 539.4 300.9 540.3 299.8 541.2 298.8 542.2 297.8 543.1 296.8 544.1 295.8 545.0 295.0 546.0 294.1 546.9 293.4 547.9 292.6 548.8 292.0 549.7 291.4 550.7 290.7 551.6 290.1 552.6 289.5 553.5 289.0 554.5 288.5 555.4 288.1 556.4 287.9 557.3 287.8 558.2 287.9 559.2 288.1 560.1 288.3 561.1 288.7 562.0 289.2 563.0 289.7 563.9 290.2 564.9 290.8 565.8 291.3 566.7 291.9 567.7 292.6 568.6 293.3 569.6 294.1 570.5 295.0 571.5 296.0 572.4 297.0 573.4 298.0 574.3 299.1 575.2 300.2 576.1 301.5 577.1 302.8 578.0 304.3 578.9 305.7 579.8 307.3 580.7 308.8 581.7 310.3 582.6 311.8 583.5 313.3" stroke="#0000ff" stroke-width="2.00" fill="none" stroke-linejoin="round" clip-path="url(#cz)"/>
<path d="M51.5 317.7L52.8 320.2 54.2 322.6 55.5 325.1 56.8 327.4 58.1 329.7 59.5 332.0 60.8 334.1 62.1 336.2 63.5 338.1 64.8 339.9 66.1 341.6 67.5 343.1 68.8 344.4 70.1 345.6 71.4 346.7 72.8 347.5 74.1 348.2 75.4 348.7 76.8 349.0 78.1 349.1 79.4 349.0 80.8 348.7 82.1 348.2 83.4 347.5 84.7 346.7 86.1 345.6 87.4 344.4 88.7 343.1 90.1 341.6 91.4 339.9 92.7 338.1 94.1 336.2 95.4 334.1 96.7 332.0 98.0 329.7 99.4 327.4 100.7 325.1 102.0 322.6 103.4 320.2 104.7 317.8 106.0 315.3 107.4 312.9 108.7 310.4 110.0 308.1 111.3 305.8 112.7 303.5 114.0 301.4 115.3 299.3 116.7 297.4 118.0 295.6 119.3 293.9 120.7 292.4 122.0 291.1 123.3 289.9 124.6 288.8 126.0 288.0 127.3 287.3 128.6 286.8 130.0 286.5 131.3 286.4 132.6 286.5 134.0 286.8 135.3 287.3 136.6 288.0 137.9 288.8 139.3 289.9 140.6 291.1 141.9 292.4 143.3 293.9 144.6 295.6 145.9 297.4 147.3 299.3 148.6 301.4 149.9 303.5 151.2 305.8 152.6 308.1 153.9 310.4 155.2 312.9 156.6 315.3 157.9 317.7 159.2 320.2 160.6 322.6 161.9 325.1 163.2 327.4 164.5 329.7 165.9 332.0 167.2 334.1 168.5 336.2 169.9 338.1 171.2 339.9 172.5 341.6 173.9 343.1 175.2 344.4 176.5 345.6 177.8 346.7 179.2 347.5 180.5 348.2 181.8 348.7 183.2 349.0 184.5 349.1 185.8 349.0 187.2 348.7 188.5 348.2 189.8 347.5 191.1 346.7 192.5 345.6 193.8 344.4 195.1 343.1 196.5 341.6 197.8 339.9 199.1 338.1 200.5 336.2 201.8 334.1 203.1 332.0 204.4 329.7 205.8 327.4 207.1 325.1 208.4 322.6 209.8 320.2 211.1 317.8 212.4 315.3 213.8 312.9 215.1 310.4 216.4 308.1 217.7 305.8 219.1 303.5 220.4 301.4 221.7 299.3 223.1 297.4 224.4 295.6 225.7 293.9 227.1 292.4 228.4 291.1 229.7 289.9 231.0 288.8 232.4 288.0 233.7 287.3 235.0 286.8 236.4 286.5 237.7 286.4 239.0 286.5 240.4 286.8 241.7 287.3 243.0 288.0 244.3 288.8 245.7 289.9 247.0 291.1 248.3 292.4 249.7 293.9 251.0 295.6 252.3 297.4 253.7 299.3 255.0 301.4 256.3 303.5 257.6 305.8 259.0 308.1 260.3 310.4 261.6 312.9 263.0 315.3 264.3 317.7 265.6 320.2 267.0 322.6 268.3 325.1 269.6 327.4 270.9 329.7 272.3 332.0 273.6 334.1 274.9 336.2 276.3 338.1 277.6 339.9 278.9 341.6 280.3 343.1 281.6 344.4 282.9 345.6 284.2 346.7 285.6 347.5 286.9 348.2 288.2 348.7 289.6 349.0 290.9 349.1 292.2 349.0 293.6 348.7 294.9 348.2 296.2 347.5 297.5 346.7 298.9 345.6 300.2 344.4 301.5 343.1 302.9 341.6 304.2 339.9 305.5 338.1 306.9 336.2 308.2 334.1 309.5 332.0 310.8 329.7 312.2 327.4 313.5 325.1 314.8 322.6 316.2 320.2 317.5 317.8 318.8 315.3 320.2 312.9 321.5 310.4 322.8 308.1 324.1 305.8 325.5 303.5 326.8 301.4 328.1 299.3 329.5 297.4 330.8 295.6 332.1 293.9 333.5 292.4 334.8 291.1 336.1 289.9 337.4 288.8 338.8 288.0 340.1 287.3 341.4 286.8 342.8 286.5 344.1 286.4 345.4 286.5 346.8 286.8 348.1 287.3 349.4 288.0 350.7 288.8 352.1 289.9 353.4 291.1 354.7 292.4 356.1 293.9 357.4 295.6 358.7 297.4 360.1 299.3 361.4 301.4 362.7 303.5 364.0 305.8 365.4 308.1 366.7 310.4 368.0 312.9 369.4 315.3 370.7 317.7 372.0 320.2 373.4 322.6 374.7 325.1 376.0 327.4 377.3 329.7 378.7 332.0 380.0 334.1 381.3 336.2 382.7 338.1 384.0 339.9 385.3 341.6 386.7 343.1 388.0 344.4 389.3 345.6 390.6 346.7 392.0 347.5 393.3 348.2 394.6 348.7 396.0 349.0 397.3 349.1 398.6 349.0 400.0 348.7 401.3 348.2 402.6 347.5 403.9 346.7 405.3 345.6 406.6 344.4 407.9 343.1 409.3 341.6 410.6 339.9 411.9 338.1 413.3 336.2 414.6 334.1 415.9 332.0 417.2 329.7 418.6 327.4 419.9 325.1 421.2 322.6 422.6 320.2 423.9 317.8 425.2 315.3 426.6 312.9 427.9 310.4 429.2 308.1 430.5 305.8 431.9 303.5 433.2 301.4 434.5 299.3 435.9 297.4 437.2 295.6 438.5 293.9 439.9 292.4 441.2 291.1 442.5 289.9 443.8 288.8 445.2 288.0 446.5 287.3 447.8 286.8 449.2 286.5 450.5 286.4 451.8 286.5 453.2 286.8 454.5 287.3 455.8 288.0 457.1 288.8 458.5 289.9 459.8 291.1 461.1 292.4 462.5 293.9 463.8 295.6 465.1 297.4 466.5 299.3 467.8 301.4 469.1 303.5 470.4 305.8 471.8 308.1 473.1 310.4 474.4 312.9 475.8 315.3 477.1 317.7 478.4 320.2 479.8 322.6 481.1 325.1 482.4 327.4 483.7 329.7 485.1 332.0 486.4 334.1 487.7 336.2 489.1 338.1 490.4 339.9 491.7 341.6 493.1 343.1 494.4 344.4 495.7 345.6 497.0 346.7 498.4 347.5 499.7 348.2 501.0 348.7 502.4 349.0 503.7 349.1 505.0 349.0 506.4 348.7 507.7 348.2 509.0 347.5 510.3 346.7 511.7 345.6 513.0 344.4 514.3 343.1 515.7 341.6 517.0 339.9 518.3 338.1 519.7 336.2 521.0 334.1 522.3 332.0 523.6 329.7 525.0 327.4 526.3 325.1 527.6 322.6 529.0 320.2 530.3 317.8 531.6 315.3 533.0 312.9 534.3 310.4 535.6 308.1 536.9 305.8 538.3 303.5 539.6 301.4 540.9 299.3 542.3 297.4 543.6 295.6 544.9 293.9 546.3 292.4 547.6 291.1 548.9 289.9 550.2 288.8 551.6 288.0 552.9 287.3 554.2 286.8 555.6 286.5 556.9 286.4 558.2 286.5 559.6 286.8 560.9 287.3 562.2 288.0 563.5 288.8 564.9 289.9 566.2 291.1 567.5 292.4 568.9 293.9 570.2 295.6 571.5 297.4 572.9 299.3 574.2 301.4 575.5 303.5 576.8 305.8 578.2 308.1 579.5 310.4 580.8 312.9 582.2 315.3 583.5 317.7" stroke="#000000" stroke-width="2.00" fill="none" stroke-linejoin="round" clip-path="url(#cz)"/>
<text x="317.50" y="382.60" font-size="8.5" text-anchor="middle" font-weight="normal" fill="#262626">Time [s]</text>
<text x="0.00" y="0.00" font-size="8.75" text-anchor="middle" font-weight="normal" fill="#262626" transform="translate(32.9 318.05) rotate(-90)">CoP [% of foot length]</text>
<rect x="49.50" y="436.00" width="536.00" height="185.50" fill="none" stroke="#929292" stroke-width="1.3"/>
<path d="M49.50 621.50V616.50M49.50 436.00V441.00M94.17 621.50V616.50M94.17 436.00V441.00M138.83 621.50V616.50M138.83 436.00V441.00M183.50 621.50V616.50M183.50 436.00V441.00M228.17 621.50V616.50M228.17 436.00V441.00M272.83 621.50V616.50M272.83 436.00V441.00M317.50 621.50V616.50M317.50 436.00V441.00M362.17 621.50V616.50M362.17 436.00V441.00M406.83 621.50V616.50M406.83 436.00V441.00M451.50 621.50V616.50M451.50 436.00V441.00M496.17 621.50V616.50M496.17 436.00V441.00M540.83 621.50V616.50M540.83 436.00V441.00M585.50 621.50V616.50M585.50 436.00V441.00M49.50 528.75H54.50M585.50 528.75H580.50" stroke="#929292" stroke-width="1" fill="none"/>
<text x="49.50" y="637.30" font-size="11" text-anchor="middle" font-weight="normal" fill="#262626">0</text>
<text x="94.17" y="637.30" font-size="11" text-anchor="middle" font-weight="normal" fill="#262626">10</text>
<text x="138.83" y="637.30" font-size="11" text-anchor="middle" font-weight="normal" fill="#262626">20</text>
<text x="183.50" y="637.30" font-size="11" text-anchor="middle" font-weight="normal" fill="#262626">30</text>
<text x="228.17" y="637.30" font-size="11" text-anchor="middle" font-weight="normal" fill="#262626">40</text>
<text x="272.83" y="637.30" font-size="11" text-anchor="middle" font-weight="normal" fill="#262626">50</text>
<text x="317.50" y="637.30" font-size="11" text-anchor="middle" font-weight="normal" fill="#262626">60</text>
<text x="362.17" y="637.30" font-size="11" text-anchor="middle" font-weight="normal" fill="#262626">70</text>
<text x="406.83" y="637.30" font-size="11" text-anchor="middle" font-weight="normal" fill="#262626">80</text>
<text x="451.50" y="637.30" font-size="11" text-anchor="middle" font-weight="normal" fill="#262626">90</text>
<text x="496.17" y="637.30" font-size="11" text-anchor="middle" font-weight="normal" fill="#262626">100</text>
<text x="540.83" y="637.30" font-size="11" text-anchor="middle" font-weight="normal" fill="#262626">110</text>
<text x="585.50" y="637.30" font-size="11" text-anchor="middle" font-weight="normal" fill="#262626">120</text>
<text x="44.50" y="532.75" font-size="11" text-anchor="end" font-weight="normal" fill="#262626">0</text>
<text x="44.50" y="440.00" font-size="11" text-anchor="end" font-weight="normal" fill="#262626">50</text>
<text x="44.50" y="625.50" font-size="11" text-anchor="end" font-weight="normal" fill="#262626">-50</text>
<path d="M49.3 526.4L50.3 527.1 51.3 527.8 52.3 528.4 53.2 529.1 54.2 529.8 55.2 530.5 56.2 531.4 57.2 532.5 58.1 533.6 59.0 534.8 60.0 536.5 60.9 538.7 61.8 541.7 62.7 554.1 63.6 573.5 64.5 583.6 65.3 576.9 66.2 561.3 67.1 543.7 67.9 531.0 68.8 523.6 69.6 519.0 70.6 517.0 71.5 515.7 72.5 514.0 73.4 511.2 74.2 507.3 75.1 503.3 76.0 500.0 76.8 497.2 77.7 494.4 78.5 492.3 79.3 491.4 80.2 493.2 81.0 497.7 81.9 504.0 82.8 510.8 83.7 517.1 84.5 521.6 85.4 523.4 86.3 522.8 87.2 521.3 88.1 519.0 89.0 516.1 89.9 513.0 90.8 509.7 91.8 504.4 92.7 497.3 93.6 491.0 94.6 488.3 95.6 490.4 96.5 495.9 97.5 503.3 98.5 511.4 99.5 518.8 100.4 524.3 101.4 526.4 102.3 525.2 103.2 522.1 104.2 517.5 105.1 511.9 106.0 505.9 106.9 499.8 107.8 494.2 108.8 489.6 109.7 486.5 110.6 485.3 111.5 488.6 112.4 496.8 113.3 507.4 114.3 518.0 115.2 526.2 116.1 529.5 117.0 529.4 117.9 529.1 118.9 528.7 119.8 528.0 120.7 527.2 121.6 526.2 122.5 525.0 123.5 523.6 124.4 522.0 125.3 520.3 126.2 514.6 127.1 503.7 128.0 491.3 128.9 481.1 129.8 476.9 130.7 482.7 131.6 496.6 132.6 513.5 133.5 528.2 134.4 535.6 135.3 537.2 136.2 538.2 137.1 538.9 137.9 539.5 138.8 540.4 139.7 541.7 140.6 544.4 141.4 548.9 142.3 554.4 143.2 560.0 144.1 565.0 144.9 568.5 145.8 569.9 146.7 565.9 147.6 556.2 148.6 544.7 149.5 535.0 150.4 531.0 151.4 531.2 152.4 531.7 153.4 532.6 154.3 533.7 155.3 535.1 156.3 536.8 157.3 538.6 158.2 542.5 159.1 549.4 159.9 557.8 160.8 566.0 161.7 572.1 162.6 574.5 163.5 569.6 164.4 557.8 165.4 543.6 166.3 531.7 167.2 526.4 168.2 526.0 169.1 525.8 170.1 525.7 171.1 525.6 172.1 525.5 173.0 525.2 174.0 524.9 174.9 523.0 175.8 518.7 176.7 512.7 177.6 505.9 178.5 499.0 179.4 492.9 180.4 485.3 181.4 477.5 182.4 474.0 183.2 480.4 184.1 495.6 184.9 514.0 185.8 529.9 186.6 537.6 187.6 539.1 188.6 540.0 189.5 540.6 190.5 541.4 191.5 542.6 192.5 545.5 193.4 550.4 194.4 556.2 195.4 561.7 196.3 565.8 197.3 567.4 198.2 565.5 199.2 560.5 200.1 553.7 201.1 546.4 202.0 539.6 203.0 534.6 203.9 532.7 204.9 532.9 205.8 533.5 206.8 534.4 207.8 535.7 208.7 537.3 209.7 539.3 210.5 545.1 211.3 555.5 212.2 565.4 213.0 569.8 214.0 566.9 214.9 559.7 215.9 550.4 216.9 541.1 217.8 533.9 218.8 531.0 219.8 531.2 220.7 531.9 221.7 532.9 222.6 534.2 223.6 535.8 224.5 537.6 225.5 542.7 226.5 551.9 227.5 562.2 228.5 570.5 229.5 574.0 230.5 569.0 231.5 557.1 232.4 543.0 233.4 531.1 234.4 526.1 235.3 526.2 236.1 526.3 237.0 526.5 237.9 526.8 238.8 527.0 239.6 527.1 240.5 527.2 241.4 527.0 242.2 526.5 243.1 525.6 244.0 524.5 244.9 523.1 245.7 521.4 246.6 519.5 247.6 513.1 248.6 501.3 249.6 487.9 250.6 476.9 251.6 472.4 252.4 479.0 253.2 494.9 254.1 514.2 254.9 531.0 255.7 539.3 256.7 541.3 257.7 542.5 258.6 543.4 259.6 544.4 260.6 545.9 261.6 549.1 262.6 554.0 263.6 559.2 264.6 563.2 265.6 564.9 266.5 563.3 267.5 559.0 268.4 553.2 269.4 546.9 270.3 541.1 271.3 536.8 272.2 535.2 273.0 535.6 273.8 536.7 274.7 538.4 275.5 540.4 276.3 542.6 277.1 546.5 277.9 552.6 278.8 559.2 279.6 564.4 280.4 566.5 281.3 565.0 282.3 561.2 283.2 555.8 284.1 549.6 285.1 543.4 286.0 538.0 287.0 534.2 287.9 532.7 288.7 533.3 289.5 534.8 290.4 537.0 291.2 539.7 292.0 542.6 292.8 547.2 293.6 554.0 294.5 561.1 295.3 566.7 296.1 569.0 297.0 567.4 298.0 563.1 298.9 557.0 299.9 550.0 300.8 543.0 301.7 536.9 302.7 532.6 303.6 531.0 304.5 531.6 305.5 533.4 306.4 536.0 307.4 539.1 308.3 542.6 309.1 547.7 309.9 555.5 310.8 563.8 311.6 570.4 312.4 573.1 313.4 568.4 314.4 557.1 315.4 543.7 316.4 532.4 317.4 527.7 318.4 527.8 319.3 528.2 320.3 528.8 321.3 529.4 322.2 530.2 323.2 531.0 324.2 531.9 325.2 532.9 326.1 534.1 327.1 535.7 328.1 537.6 328.9 539.8 329.8 542.9 330.6 547.1 331.4 552.5 332.4 569.6 333.4 583.1 334.3 573.0 335.3 550.8 336.2 528.4 337.2 517.8 338.0 517.3 338.8 517.0 339.7 516.9 340.5 516.6 341.3 516.2 342.2 514.3 343.2 510.5 344.1 505.5 345.1 500.2 346.0 495.4 347.0 491.9 347.9 490.6 348.9 493.9 349.9 501.9 350.9 511.5 351.9 519.5 352.9 522.8 353.7 522.7 354.5 522.5 355.4 522.3 356.2 521.9 357.1 519.7 358.1 514.7 359.0 508.2 360.0 501.1 360.9 494.6 361.9 489.9 362.8 488.1 363.7 490.2 364.7 495.6 365.6 503.1 366.6 511.1 367.5 518.6 368.5 524.0 369.4 526.1 370.4 525.1 371.3 522.5 372.3 518.6 373.2 513.7 374.2 508.3 375.1 502.6 376.1 497.2 377.0 492.3 378.0 488.4 378.9 485.8 379.9 484.8 380.9 488.1 381.8 496.4 382.8 507.1 383.8 517.8 384.7 526.1 385.7 529.4 386.7 529.2 387.6 528.6 388.6 527.7 389.6 526.7 390.5 525.5 391.5 524.4 392.3 523.5 393.1 522.5 394.0 521.2 394.8 519.5 395.7 513.5 396.6 502.4 397.6 490.0 398.5 479.9 399.4 475.7 400.3 481.8 401.2 496.4 402.0 514.1 402.9 529.1 403.8 536.0 404.6 536.6 405.5 537.0 406.3 537.6 407.1 539.0 407.9 541.3 408.8 544.3 409.6 547.5 410.4 550.8 411.3 555.7 412.3 561.7 413.2 566.8 414.2 569.0 415.2 566.9 416.2 561.5 417.2 554.0 418.2 546.0 419.2 538.5 420.2 533.1 421.2 531.0 422.2 531.7 423.2 533.5 424.1 536.1 425.1 539.3 426.1 542.6 427.1 548.0 428.1 555.8 429.1 564.0 430.1 570.5 431.1 573.1 432.1 568.7 433.1 558.3 434.0 545.7 435.0 534.7 436.0 529.4 436.8 528.5 437.5 527.9 438.3 527.7 439.3 528.0 440.3 528.7 441.3 529.8 442.3 531.2 443.3 532.7 444.1 534.4 444.9 536.7 445.8 539.7 446.6 543.3 447.4 547.5 448.2 555.5 449.0 567.1 449.9 577.6 450.7 582.2 451.5 575.8 452.3 560.4 453.2 542.0 454.0 526.4 454.8 519.5 455.6 519.0 456.4 518.7 457.3 518.5 458.1 518.3 458.9 517.8 459.7 516.1 460.5 512.7 461.4 508.6 462.2 504.6 463.0 500.1 463.9 495.0 464.7 490.7 465.5 488.9 466.5 491.7 467.4 498.5 468.4 507.5 469.4 516.5 470.3 523.3 471.3 526.1 472.3 525.8 473.3 524.8 474.3 523.4 475.3 521.5 476.3 519.5 477.3 515.6 478.2 508.9 479.2 501.0 480.2 493.5 481.1 487.8 482.1 485.6 483.1 488.8 484.0 497.0 485.0 507.5 485.9 518.0 486.9 526.2 487.8 529.4 488.8 529.1 489.8 528.4 490.8 527.3 491.8 526.0 492.8 524.4 493.7 521.2 494.6 515.5 495.6 508.0 496.5 499.8 497.4 491.7 498.4 484.8 499.3 480.0 500.2 478.2 501.2 483.8 502.1 497.4 503.1 513.7 504.0 527.7 505.0 534.3 506.0 535.3 507.0 535.8 507.9 536.2 508.9 536.7 509.9 537.6 510.7 539.7 511.6 543.3 512.4 547.9 513.2 552.5 514.2 560.0 515.2 568.4 516.2 572.3 517.1 569.1 518.0 561.2 518.9 550.8 519.7 540.5 520.6 532.6 521.5 529.4 522.5 529.5 523.5 529.7 524.4 530.0 525.4 530.5 526.4 531.0 527.2 531.8 528.0 533.3 528.9 535.2 529.7 537.6 530.7 543.8 531.7 554.1 532.7 565.3 533.7 574.4 534.7 578.1 535.5 572.5 536.3 559.1 537.2 543.0 538.0 529.2 538.8 522.8 539.8 521.8 540.8 521.3 541.8 520.9 542.8 520.4 543.8 519.5 544.6 517.8 545.5 515.0 546.3 511.5 547.1 507.9 547.9 503.2 548.7 497.2 549.6 491.2 550.4 486.6 551.2 484.8 552.2 489.4 553.2 500.5 554.1 513.7 555.1 524.8 556.1 529.4 557.1 529.3 558.1 529.1 559.1 528.7 560.1 528.2 561.1 527.7 562.1 527.0 563.1 526.1 564.0 524.8 565.0 523.2 566.0 521.1 566.9 516.2 567.8 507.1 568.6 496.0 569.5 485.3 570.4 477.2 571.3 474.0 572.2 480.3 573.2 495.6 574.1 514.0 575.1 529.9 576.0 537.6 576.8 538.7 577.6 539.4 578.5 540.0 579.3 540.9 580.2 542.9 581.1 546.0 582.0 549.9 582.8 554.3 583.7 558.8 584.6 563.3 585.5 567.4" stroke="#000000" stroke-width="2.00" fill="none" stroke-linejoin="round"/>
<path d="M49.3 526.4L50.2 528.6 51.0 530.8 51.9 531.8 52.7 529.4 53.4 525.0 54.2 522.6 55.2 524.5 56.2 528.5 57.2 532.5 58.2 535.3 59.1 537.7 60.0 540.0 61.0 542.3 62.0 544.8 62.9 547.7 63.8 551.2 64.8 555.4 65.7 564.0 66.7 575.1 67.6 580.6 68.5 569.8 69.3 547.9 70.2 531.0 71.0 523.1 71.7 516.8 72.5 514.2 73.5 520.9 74.5 533.5 75.5 540.2 76.4 536.9 77.4 528.5 78.3 517.1 79.2 504.5 80.1 493.1 81.1 484.7 82.0 481.4 82.9 489.1 83.8 507.4 84.7 529.4 85.6 547.7 86.5 555.4 87.5 553.7 88.5 549.2 89.4 542.3 90.4 533.9 91.4 524.4 92.4 514.7 93.4 505.2 94.4 496.8 95.3 489.9 96.3 485.4 97.3 483.7 98.2 490.4 99.1 506.3 99.9 525.2 100.8 541.1 101.7 547.8 102.7 546.5 103.6 542.9 104.6 537.5 105.5 530.6 106.5 522.9 107.5 514.7 108.4 506.5 109.4 498.8 110.3 491.9 111.3 486.5 112.2 482.9 113.2 481.6 114.1 487.7 115.0 502.2 115.8 519.6 116.7 534.1 117.6 540.2 118.6 539.6 119.5 538.1 120.5 535.8 121.4 532.8 122.4 529.5 123.4 525.9 124.3 522.3 125.3 518.8 126.2 514.8 127.2 509.8 128.2 504.1 129.1 498.4 130.1 493.1 131.0 488.6 132.0 485.6 132.9 484.5 133.8 490.6 134.7 505.2 135.7 522.5 136.6 537.1 137.5 543.2 138.4 541.0 139.3 535.7 140.2 529.4 141.1 524.1 142.0 521.9 142.9 524.8 143.7 532.3 144.6 542.6 145.5 553.8 146.4 564.1 147.2 571.6 148.1 574.5 149.0 568.4 149.9 553.8 150.9 536.5 151.8 521.9 152.7 515.8 153.6 516.8 154.6 519.7 155.5 524.1 156.5 529.7 157.4 536.2 158.3 543.1 159.3 550.2 160.2 557.1 161.1 563.6 162.1 569.2 163.0 573.6 164.0 576.5 164.9 577.5 165.8 574.3 166.6 566.2 167.5 555.0 168.4 542.8 169.3 531.6 170.1 523.5 171.0 520.3 171.9 521.7 172.8 525.1 173.8 529.2 174.7 532.6 175.6 534.0 176.5 532.5 177.4 528.6 178.4 523.4 179.3 517.7 180.2 512.7 181.1 507.7 182.0 501.8 182.9 495.9 183.9 490.7 184.8 487.0 185.7 485.6 186.5 492.9 187.4 510.3 188.2 531.1 189.1 548.5 189.9 555.8 190.9 552.7 191.9 545.3 192.8 536.6 193.8 529.2 194.8 526.1 195.8 531.2 196.8 543.2 197.8 557.7 198.8 569.7 199.8 574.8 200.8 568.3 201.8 552.7 202.7 534.1 203.7 518.5 204.7 512.0 205.7 512.9 206.6 515.5 207.6 519.3 208.6 523.9 209.5 529.1 210.5 534.3 211.5 541.9 212.5 552.6 213.4 563.6 214.4 572.1 215.4 575.6 216.4 569.6 217.4 555.3 218.4 538.1 219.4 523.8 220.4 517.8 221.2 518.6 222.0 520.9 222.9 524.0 223.7 527.5 224.5 531.0 225.4 535.7 226.4 542.0 227.3 549.0 228.2 556.3 229.2 563.0 230.1 568.7 231.1 572.6 232.0 574.0 232.8 566.5 233.7 550.0 234.5 533.6 235.3 526.1 236.2 526.5 237.2 527.4 238.2 528.5 239.1 529.7 240.1 530.6 241.0 531.0 241.9 530.9 242.9 530.4 243.8 529.7 244.7 528.8 245.7 527.6 246.6 526.1 247.4 522.1 248.2 514.7 249.1 506.9 249.9 501.3 250.7 497.9 251.5 494.7 252.4 492.1 253.2 490.4 254.0 489.7 254.8 496.5 255.7 512.7 256.5 532.0 257.4 548.2 258.2 555.0 259.2 552.0 260.2 544.8 261.1 536.3 262.1 529.1 263.1 526.1 264.0 529.6 264.9 538.3 265.8 549.6 266.6 560.9 267.5 569.6 268.4 573.1 269.3 567.6 270.2 554.5 271.2 538.9 272.1 525.8 273.0 520.3 274.0 521.7 275.0 525.6 276.0 531.4 277.0 538.3 277.9 545.9 278.9 553.5 279.9 560.4 280.9 566.2 281.9 570.1 282.9 571.5 283.9 566.5 284.9 554.6 285.9 540.5 286.9 528.6 287.9 523.6 288.9 524.7 289.8 527.7 290.8 532.2 291.8 537.8 292.8 543.9 293.7 550.4 294.7 556.5 295.7 562.1 296.7 566.6 297.6 569.6 298.6 570.7 299.6 566.1 300.6 555.0 301.6 541.8 302.6 530.7 303.6 526.1 304.5 527.0 305.5 529.5 306.4 533.3 307.4 538.1 308.3 543.5 309.2 549.2 310.2 554.9 311.1 560.3 312.1 565.1 313.0 568.9 314.0 571.4 314.9 572.3 315.9 567.3 316.9 555.4 317.9 541.3 318.9 529.4 319.9 524.4 320.9 525.8 321.9 529.0 322.8 533.0 323.8 536.2 324.8 537.6 325.6 536.8 326.5 535.2 327.3 533.5 328.1 532.7 329.0 534.7 330.0 539.9 330.9 547.0 331.9 554.7 332.8 561.8 333.8 567.0 334.7 569.0 335.7 563.9 336.7 551.6 337.7 536.9 338.7 524.6 339.7 519.5 340.7 520.7 341.7 523.5 342.6 527.0 343.6 529.8 344.6 531.0 345.6 527.2 346.5 517.7 347.5 505.4 348.5 493.1 349.4 483.6 350.4 479.8 351.2 487.2 352.0 504.8 352.9 525.8 353.7 543.4 354.5 550.8 355.5 549.3 356.5 545.1 357.4 538.9 358.4 531.2 359.4 522.6 360.4 513.8 361.4 505.2 362.4 497.5 363.3 491.3 364.3 487.1 365.3 485.6 366.2 489.7 367.2 499.9 368.1 513.2 369.1 526.6 370.1 536.8 371.0 540.9 371.9 539.7 372.9 536.6 373.8 532.0 374.7 526.7 375.7 521.3 376.6 516.2 377.6 510.4 378.5 503.3 379.5 496.0 380.5 489.5 381.4 484.9 382.4 483.1 383.2 488.9 384.0 502.9 384.9 519.5 385.7 533.5 386.5 539.3 387.5 537.6 388.4 533.3 389.4 527.8 390.4 522.2 391.3 517.9 392.3 516.2 393.1 516.4 393.9 516.8 394.8 517.2 395.6 517.6 396.4 517.8 397.4 514.5 398.4 506.7 399.4 497.5 400.4 489.7 401.4 486.4 402.2 494.1 403.0 511.2 403.9 528.2 404.7 536.0 405.6 534.8 406.6 531.9 407.5 528.1 408.5 524.4 409.4 521.5 410.4 520.3 411.4 523.0 412.3 530.1 413.3 539.8 414.2 550.3 415.2 560.0 416.1 567.1 417.1 569.8 418.1 564.6 419.1 552.1 420.0 537.2 421.0 524.7 422.0 519.5 422.8 520.1 423.6 521.6 424.5 523.9 425.3 526.6 426.1 529.4 427.0 534.2 428.0 541.3 428.9 549.8 429.9 558.3 430.8 565.8 431.8 571.1 432.7 573.1 433.7 567.7 434.7 554.8 435.7 539.4 436.7 526.5 437.7 521.1 438.7 522.9 439.6 526.9 440.6 530.9 441.6 532.7 442.6 532.5 443.6 532.1 444.6 531.6 445.6 531.2 446.6 531.0 447.6 533.8 448.5 540.9 449.5 550.0 450.4 559.1 451.4 566.2 452.3 569.0 453.3 564.0 454.3 552.1 455.3 538.0 456.3 526.1 457.3 521.1 458.1 522.0 458.9 524.0 459.8 526.5 460.6 528.5 461.4 529.4 462.3 527.5 463.2 522.6 464.2 515.5 465.1 507.5 466.0 499.5 466.9 492.4 467.9 487.5 468.8 485.6 469.6 491.5 470.5 505.7 471.3 522.5 472.2 536.7 473.0 542.6 474.0 541.2 474.9 537.4 475.9 531.7 476.9 524.7 477.9 516.9 478.8 508.8 479.8 501.0 480.8 494.0 481.8 488.3 482.7 484.5 483.7 483.1 484.7 489.2 485.7 503.8 486.7 521.1 487.7 535.7 488.7 541.8 489.7 539.0 490.7 532.2 491.6 524.1 492.6 517.3 493.6 514.5 494.4 515.3 495.2 517.0 496.1 518.7 496.9 519.5 497.9 516.1 498.9 507.8 499.9 498.1 500.9 489.8 501.9 486.4 502.8 491.7 503.8 504.4 504.7 519.6 505.7 532.3 506.6 537.6 507.6 535.5 508.6 530.6 509.6 524.8 510.6 519.9 511.6 517.8 512.5 519.9 513.5 525.3 514.4 533.0 515.3 541.8 516.2 550.5 517.1 558.2 518.1 563.6 519.0 565.7 519.8 560.4 520.6 547.7 521.5 532.5 522.3 519.8 523.1 514.5 524.1 515.5 525.1 518.0 526.1 521.6 527.1 525.6 528.1 529.4 529.0 533.3 529.9 538.1 530.8 543.6 531.7 549.3 532.7 554.8 533.6 559.7 534.5 563.7 535.4 566.4 536.3 567.4 537.3 562.4 538.3 550.5 539.3 536.4 540.3 524.5 541.3 519.5 542.1 520.2 542.9 521.8 543.8 523.8 544.6 525.4 545.4 526.1 546.3 524.5 547.2 520.4 548.2 514.3 549.1 507.1 550.0 499.6 550.9 492.4 551.9 486.3 552.8 482.2 553.7 480.6 554.5 487.4 555.3 503.6 556.2 522.9 557.0 539.1 557.8 545.9 558.8 544.4 559.7 540.5 560.7 535.3 561.7 529.9 562.6 525.4 563.6 522.8 564.4 522.0 565.2 521.4 566.1 521.0 566.9 520.4 567.7 519.5 568.5 515.6 569.3 507.9 570.2 499.1 571.0 491.9 571.8 488.9 572.8 493.0 573.7 503.2 574.7 516.5 575.7 529.9 576.6 540.1 577.6 544.2 578.6 542.0 579.6 536.7 580.6 530.3 581.6 525.0 582.6 522.8 583.6 528.9 584.5 542.4 585.5 555.8" stroke="#0000ff" stroke-width="2.00" fill="none" stroke-linejoin="round"/>
<path d="M49.3 524.1L50.3 523.1 51.3 521.9 52.2 520.8 53.2 519.9 54.2 519.6 55.1 520.0 56.0 521.1 56.9 522.6 57.8 524.5 58.7 526.4 59.6 528.6 60.4 531.3 61.3 534.4 62.2 538.0 63.1 541.7 63.9 545.5 64.8 549.3 65.7 554.6 66.7 560.3 67.6 563.0 68.5 556.7 69.4 541.8 70.2 524.0 71.1 509.1 72.0 502.8 72.9 508.2 73.8 520.0 74.6 531.7 75.5 537.1 76.4 534.9 77.4 529.2 78.3 521.5 79.2 513.1 80.1 505.4 81.1 499.7 82.0 497.5 82.8 502.3 83.7 513.6 84.5 527.1 85.4 538.4 86.2 543.2 87.2 542.1 88.1 539.1 89.1 534.6 90.1 529.0 91.1 522.8 92.0 516.3 93.0 510.1 94.0 504.5 95.0 500.0 95.9 497.0 96.9 495.9 97.9 500.7 98.8 512.0 99.8 525.6 100.7 536.9 101.7 541.7 102.7 540.6 103.7 537.5 104.7 532.9 105.7 527.2 106.7 520.9 107.6 514.3 108.6 508.0 109.6 502.3 110.6 497.7 111.6 494.6 112.6 493.5 113.6 498.4 114.6 509.9 115.6 523.8 116.6 535.3 117.6 540.2 118.5 537.7 119.4 531.8 120.4 524.5 121.3 517.9 122.2 514.2 123.1 513.0 124.0 512.1 125.0 511.5 125.9 510.7 126.8 509.7 127.7 507.9 128.6 505.2 129.4 502.3 130.3 499.5 131.2 497.5 132.1 496.7 133.0 500.2 133.9 509.0 134.8 520.4 135.7 531.7 136.6 540.5 137.5 544.0 138.5 541.0 139.4 533.8 140.4 525.2 141.3 518.0 142.3 515.0 143.3 518.2 144.2 526.1 145.2 536.4 146.2 546.6 147.1 554.5 148.1 557.7 149.0 553.1 149.9 542.1 150.9 529.1 151.8 518.1 152.7 513.5 153.6 514.1 154.4 515.9 155.3 518.6 156.2 521.8 157.1 525.4 157.9 529.0 158.8 532.5 159.7 536.7 160.6 542.0 161.4 547.6 162.3 552.7 163.2 556.3 164.1 557.7 165.0 555.5 166.0 550.0 166.9 542.4 167.9 534.1 168.8 526.5 169.8 521.0 170.7 518.8 171.7 520.4 172.7 524.2 173.6 528.6 174.6 532.4 175.6 534.0 176.5 532.6 177.4 529.1 178.4 524.2 179.3 519.0 180.2 514.2 181.0 509.8 181.8 504.7 182.5 500.5 183.3 498.8 184.1 499.4 184.9 500.9 185.7 503.0 186.5 509.4 187.4 521.3 188.2 534.6 189.1 545.5 189.9 550.0 190.8 546.8 191.7 539.3 192.7 530.2 193.6 522.7 194.5 519.5 195.4 522.6 196.3 530.2 197.2 540.1 198.0 550.1 198.9 557.7 199.8 560.8 200.7 556.4 201.6 545.9 202.6 533.5 203.5 523.0 204.4 518.6 205.3 519.1 206.2 520.6 207.1 522.7 207.9 525.3 208.8 528.1 209.7 531.0 210.7 535.6 211.7 542.0 212.6 548.6 213.6 553.7 214.6 555.8 215.6 551.7 216.6 541.9 217.6 530.1 218.6 520.3 219.6 516.2 220.6 516.9 221.5 518.9 222.5 521.9 223.5 525.4 224.4 529.1 225.4 532.7 226.4 537.3 227.4 543.4 228.3 549.3 229.3 554.0 230.3 555.8 231.2 553.9 232.2 548.9 233.1 542.1 234.1 534.8 235.0 528.0 236.0 523.0 236.9 521.1 237.9 522.3 238.8 525.2 239.8 529.0 240.8 532.7 241.7 535.6 242.7 536.8 243.7 535.6 244.6 532.6 245.6 528.6 246.6 524.4 247.6 518.7 248.6 511.0 249.6 503.2 250.6 497.1 251.6 494.7 252.6 498.5 253.5 508.0 254.4 520.3 255.4 532.6 256.4 542.1 257.3 545.9 258.3 544.2 259.2 540.1 260.2 534.8 261.2 529.4 262.1 525.3 263.1 523.6 264.1 527.2 265.1 535.8 266.1 546.1 267.1 554.7 268.1 558.3 269.1 554.0 270.1 543.8 271.0 531.5 272.0 521.3 273.0 517.0 273.9 518.3 274.8 521.9 275.8 527.1 276.7 533.2 277.6 539.6 278.5 545.7 279.5 550.9 280.4 554.5 281.3 555.8 282.3 553.6 283.3 547.9 284.3 540.2 285.2 531.8 286.2 524.1 287.2 518.4 288.2 516.2 289.2 517.7 290.2 521.8 291.1 527.8 292.1 534.8 293.1 542.2 294.1 549.2 295.0 555.2 296.0 559.3 297.0 560.8 297.9 558.4 298.9 552.1 299.8 543.6 300.8 534.2 301.7 525.7 302.7 519.4 303.6 517.0 304.5 517.9 305.4 520.4 306.3 524.1 307.3 528.5 308.2 533.3 309.1 538.2 310.0 542.6 310.8 547.1 311.6 552.5 312.5 557.7 313.3 561.6 314.1 563.2 315.0 560.8 315.8 554.5 316.7 546.0 317.6 536.7 318.5 528.2 319.3 521.9 320.2 519.5 321.1 520.7 322.0 523.5 323.0 527.0 323.9 529.8 324.8 531.0 325.6 530.1 326.5 528.6 327.3 527.7 328.1 528.6 328.9 531.0 329.8 534.4 330.6 538.4 331.4 542.6 332.2 549.2 333.1 557.0 333.9 560.8 334.9 557.6 335.8 549.7 336.8 539.3 337.8 528.8 338.7 520.6 339.7 517.0 340.5 516.6 341.3 516.3 342.1 516.2 342.9 518.8 343.8 523.5 344.6 526.1 345.5 523.7 346.4 517.8 347.2 510.0 348.1 502.2 349.0 496.3 349.9 493.9 350.8 499.4 351.7 512.5 352.7 528.1 353.6 541.2 354.5 546.7 355.5 545.2 356.5 541.3 357.5 535.5 358.5 528.4 359.4 520.7 360.4 513.0 361.4 505.9 362.4 500.1 363.4 496.2 364.4 494.7 365.4 497.9 366.3 505.8 367.3 516.1 368.3 526.5 369.2 534.4 370.2 537.6 371.1 536.7 372.0 534.4 372.9 530.8 373.9 526.6 374.8 521.9 375.7 517.2 376.6 512.9 377.4 508.4 378.2 503.0 379.1 497.7 379.9 493.8 380.7 492.2 381.7 495.2 382.6 502.7 383.6 512.5 384.6 522.2 385.5 529.7 386.5 532.7 387.5 531.2 388.4 527.6 389.4 522.8 390.4 518.0 391.3 514.4 392.3 512.9 393.1 513.4 394.0 514.5 394.8 515.7 395.6 516.2 396.4 514.0 397.2 508.9 398.1 502.8 398.9 497.7 399.7 495.5 400.7 498.3 401.6 505.1 402.6 514.1 403.6 523.1 404.5 529.9 405.5 532.7 406.3 531.7 407.1 529.2 408.0 526.3 408.8 523.8 409.6 522.8 410.5 524.2 411.5 528.0 412.4 533.2 413.4 539.3 414.3 545.4 415.2 550.6 416.2 554.4 417.1 555.8 418.1 551.5 419.1 541.3 420.0 529.0 421.0 518.8 422.0 514.5 423.0 515.5 424.0 518.0 425.0 521.5 426.0 525.5 427.0 529.4 427.9 533.9 428.9 539.8 429.9 546.1 430.8 551.8 431.8 555.9 432.7 557.5 433.6 554.7 434.5 547.9 435.4 538.9 436.2 529.9 437.1 523.1 438.0 520.3 438.9 522.2 439.8 526.5 440.7 530.8 441.6 532.7 442.4 532.4 443.2 531.8 444.1 531.1 444.9 530.5 445.7 530.2 446.7 533.5 447.7 541.5 448.7 551.1 449.7 559.1 450.7 562.4 451.6 560.1 452.6 554.2 453.5 546.1 454.5 537.4 455.4 529.3 456.4 523.4 457.3 521.1 458.1 521.6 458.9 522.9 459.8 524.3 460.6 525.6 461.4 526.1 462.3 524.4 463.3 520.2 464.2 514.4 465.2 508.0 466.1 502.2 467.1 498.0 468.0 496.3 469.0 501.3 470.0 513.2 471.0 527.3 472.0 539.2 473.0 544.2 474.0 542.8 475.0 539.1 476.0 533.5 477.0 526.8 477.9 519.5 478.9 512.1 479.9 505.4 480.9 499.8 481.9 496.1 482.9 494.7 483.9 498.1 484.8 506.7 485.8 517.8 486.8 528.9 487.7 537.5 488.7 540.9 489.5 539.0 490.3 534.3 491.2 528.6 492.0 523.6 492.8 521.1 493.6 520.6 494.5 520.3 495.3 520.0 496.1 519.5 497.1 515.8 498.1 508.1 499.0 499.3 500.0 491.9 501.0 488.9 501.9 492.4 502.9 501.1 503.8 512.5 504.7 523.8 505.7 532.5 506.6 536.0 507.6 534.9 508.5 532.1 509.5 528.5 510.5 525.0 511.4 522.2 512.4 521.1 513.4 523.6 514.3 529.9 515.3 538.0 516.3 546.2 517.2 552.5 518.2 555.0 519.2 550.5 520.2 539.9 521.1 527.1 522.1 516.5 523.1 512.0 524.1 513.3 525.0 516.5 526.0 520.7 527.0 525.2 527.9 528.9 528.9 531.0 529.7 531.6 530.6 532.0 531.4 532.7 532.3 537.4 533.2 546.4 534.1 555.2 535.0 559.1 535.9 556.9 536.8 551.1 537.7 543.2 538.6 534.5 539.5 526.6 540.4 520.8 541.3 518.6 542.3 519.9 543.3 523.0 544.2 526.6 545.2 529.7 546.2 531.0 547.2 528.6 548.1 522.4 549.1 514.5 550.1 506.6 551.0 500.4 552.0 498.0 553.0 500.8 553.9 507.9 554.9 517.0 555.9 526.1 556.8 533.2 557.8 536.0 558.8 535.0 559.8 532.6 560.7 529.4 561.7 526.5 562.7 524.4 563.5 523.5 564.4 522.9 565.2 522.2 566.0 521.1 566.9 517.7 567.8 511.3 568.6 503.5 569.5 496.0 570.4 490.3 571.3 488.1 572.2 490.8 573.1 497.6 574.0 507.0 574.9 517.1 575.8 526.5 576.7 533.3 577.6 536.0 578.6 535.3 579.6 533.7 580.6 531.7 581.6 530.1 582.6 529.4 583.6 533.1 584.5 541.1 585.5 549.2" stroke="#ff0000" stroke-width="2.00" fill="none" stroke-linejoin="round"/>
<text x="317.50" y="652.40" font-size="12.4" text-anchor="middle" font-weight="normal" fill="#262626">Time [s]</text>
<text x="0.00" y="0.00" font-size="11.95" text-anchor="middle" font-weight="normal" fill="#262626" transform="translate(24.2 528.75) rotate(-90)">CoP [% of foot length]</text>
<text x="317.00" y="431.30" font-size="12.3" text-anchor="middle" font-weight="bold" fill="#000">Chaotic</text>
<text x="3.50" y="445.50" font-size="17" text-anchor="start" font-weight="normal" fill="#000">B</text>
<path d="M362.17 436.00V621.50" stroke="#000" stroke-width="1.6" stroke-dasharray="1.3 1.3"/>
<path d="M451.50 436.00V621.50" stroke="#000" stroke-width="1.6" stroke-dasharray="1.3 1.3"/>
<path d="M362.17 621.50L49.00 682.50" stroke="#000" stroke-width="1" stroke-dasharray="3 1.3"/>
<path d="M451.50 621.50L585.50 682.50" stroke="#000" stroke-width="1" stroke-dasharray="3 1.3"/>
<rect x="49.00" y="682.50" width="536.50" height="79.00" fill="none" stroke="#929292" stroke-width="1.3"/>
<path d="M49.00 761.50V757.50M49.00 682.50V686.50M102.65 761.50V757.50M102.65 682.50V686.50M156.30 761.50V757.50M156.30 682.50V686.50M209.95 761.50V757.50M209.95 682.50V686.50M263.60 761.50V757.50M263.60 682.50V686.50M317.25 761.50V757.50M317.25 682.50V686.50M370.90 761.50V757.50M370.90 682.50V686.50M424.55 761.50V757.50M424.55 682.50V686.50M478.20 761.50V757.50M478.20 682.50V686.50M531.85 761.50V757.50M531.85 682.50V686.50M585.50 761.50V757.50M585.50 682.50V686.50M49.00 682.50H53.00M585.50 682.50H581.50M49.00 702.25H53.00M585.50 702.25H581.50M49.00 722.00H53.00M585.50 722.00H581.50M49.00 741.75H53.00M585.50 741.75H581.50M49.00 761.50H53.00M585.50 761.50H581.50" stroke="#929292" stroke-width="1" fill="none"/>
<text x="49.00" y="772.00" font-size="8" text-anchor="middle" font-weight="normal" fill="#262626">70</text>
<text x="102.65" y="772.00" font-size="8" text-anchor="middle" font-weight="normal" fill="#262626">72</text>
<text x="156.30" y="772.00" font-size="8" text-anchor="middle" font-weight="normal" fill="#262626">74</text>
<text x="209.95" y="772.00" font-size="8" text-anchor="middle" font-weight="normal" fill="#262626">76</text>
<text x="263.60" y="772.00" font-size="8" text-anchor="middle" font-weight="normal" fill="#262626">78</text>
<text x="317.25" y="772.00" font-size="8" text-anchor="middle" font-weight="normal" fill="#262626">80</text>
<text x="370.90" y="772.00" font-size="8" text-anchor="middle" font-weight="normal" fill="#262626">82</text>
<text x="424.55" y="772.00" font-size="8" text-anchor="middle" font-weight="normal" fill="#262626">84</text>
<text x="478.20" y="772.00" font-size="8" text-anchor="middle" font-weight="normal" fill="#262626">86</text>
<text x="531.85" y="772.00" font-size="8" text-anchor="middle" font-weight="normal" fill="#262626">88</text>
<text x="585.50" y="772.00" font-size="8" text-anchor="middle" font-weight="normal" fill="#262626">90</text>
<text x="47.00" y="685.50" font-size="8" text-anchor="end" font-weight="normal" fill="#262626">40</text>
<text x="47.00" y="705.25" font-size="8" text-anchor="end" font-weight="normal" fill="#262626">20</text>
<text x="47.00" y="725.00" font-size="8" text-anchor="end" font-weight="normal" fill="#262626">0</text>
<text x="47.00" y="744.75" font-size="8" text-anchor="end" font-weight="normal" fill="#262626">-20</text>
<text x="47.00" y="764.50" font-size="8" text-anchor="end" font-weight="normal" fill="#262626">-40</text>
<path d="M49.2 709.2L50.1 708.8 51.0 708.5 52.0 708.1 52.9 707.8 53.8 707.4 54.7 707.0 55.7 706.7 56.6 706.4 57.5 706.1 58.4 705.8 59.4 705.5 60.3 705.2 61.2 704.9 62.2 704.6 63.1 704.4 64.0 704.2 65.0 704.0 65.9 704.0 66.8 704.0 67.7 704.1 68.6 704.3 69.4 704.4 70.3 704.6 71.2 704.9 72.1 705.1 73.0 705.4 74.0 705.8 74.9 706.3 75.9 706.8 76.8 707.4 77.7 708.1 78.7 708.9 79.6 709.6 80.6 710.4 81.5 711.3 82.4 712.3 83.3 713.6 84.2 715.1 85.2 716.7 86.1 718.3 87.0 719.7 87.9 720.9 88.8 721.8 89.7 722.5 90.7 723.2 91.6 723.9 92.6 724.5 93.5 725.1 94.5 725.6 95.4 726.1 96.4 726.5 97.3 726.8 98.3 726.9 99.2 727.0 100.2 726.9 101.1 726.7 102.1 726.4 103.1 725.9 104.0 725.4 105.0 724.8 106.0 724.2 107.0 723.6 107.9 722.9 108.9 722.3 109.9 721.7 110.8 721.2 111.8 720.7 112.8 720.3 113.8 719.9 114.7 719.5 115.7 719.1 116.7 718.7 117.7 718.3 118.7 717.9 119.7 717.6 120.6 717.2 121.6 716.9 122.6 716.5 123.6 716.2 124.6 715.8 125.6 715.5 126.5 715.2 127.5 714.8 128.5 714.5 129.4 714.2 130.4 713.9 131.3 713.7 132.3 713.4 133.2 713.1 134.2 712.9 135.1 712.6 136.1 712.3 137.0 712.0 138.0 711.7 138.9 711.3 139.8 710.8 140.8 710.3 141.7 709.6 142.7 708.9 143.6 708.1 144.6 707.3 145.5 706.6 146.5 705.8 147.4 705.1 148.4 704.5 149.3 704.0 150.2 703.5 151.2 703.1 152.1 702.6 153.0 702.2 154.0 701.8 154.9 701.4 155.8 701.1 156.8 701.0 157.7 700.9 158.6 701.0 159.6 701.2 160.5 701.5 161.5 702.0 162.4 702.5 163.4 703.0 164.3 703.6 165.3 704.3 166.2 704.9 167.2 705.5 168.1 706.1 169.0 706.7 170.0 707.3 170.9 707.9 171.9 708.5 172.8 709.2 173.8 709.8 174.7 710.5 175.7 711.2 176.6 712.0 177.6 712.7 178.5 713.4 179.5 714.2 180.5 715.1 181.4 716.0 182.4 717.0 183.4 717.9 184.4 718.8 185.4 719.7 186.3 720.5 187.3 721.2 188.3 721.8 189.2 722.3 190.2 722.8 191.1 723.2 192.0 723.7 193.0 724.1 193.9 724.4 194.8 724.7 195.8 724.8 196.7 724.9 197.7 724.9 198.6 724.8 199.6 724.6 200.6 724.5 201.6 724.2 202.5 724.0 203.5 723.7 204.5 723.4 205.5 723.0 206.4 722.6 207.4 722.3 208.4 721.9 209.4 721.5 210.3 721.1 211.3 720.7 212.2 720.3 213.2 719.7 214.1 719.1 215.1 718.4 216.0 717.7 217.0 717.0 217.9 716.4 218.9 715.8 219.8 715.2 220.8 714.8 221.7 714.5 222.7 714.3 223.6 714.1 224.6 713.9 225.5 713.7 226.5 713.5 227.4 713.4 228.4 713.2 229.3 713.1 230.3 713.1 231.2 713.0 232.2 713.0 233.1 713.0 234.1 713.1 235.0 713.2 236.0 713.3 236.9 713.5 237.9 713.6 238.8 713.8 239.8 714.0 240.7 714.2 241.7 714.3 242.6 714.5 243.5 714.7 244.5 714.9 245.4 715.1 246.4 715.4 247.3 715.6 248.3 715.8 249.2 716.0 250.2 716.2 251.1 716.4 252.1 716.5 253.0 716.5 254.0 716.4 254.9 716.0 255.9 715.5 256.8 714.8 257.8 714.0 258.7 713.1 259.7 712.2 260.6 711.3 261.6 710.5 262.5 709.8 263.5 709.2 264.5 708.7 265.4 708.1 266.4 707.6 267.3 707.1 268.3 706.5 269.3 706.0 270.2 705.5 271.2 705.1 272.2 704.7 273.1 704.4 274.1 704.2 275.0 704.1 276.0 704.0 277.0 704.0 277.9 704.1 278.9 704.3 279.8 704.5 280.8 704.8 281.8 705.2 282.7 705.5 283.7 705.9 284.7 706.3 285.6 706.8 286.6 707.3 287.5 707.7 288.5 708.2 289.5 708.8 290.4 709.5 291.4 710.3 292.3 711.2 293.3 712.2 294.3 713.2 295.2 714.3 296.2 715.3 297.2 716.4 298.1 717.3 299.1 718.2 300.0 719.0 301.0 719.7 301.9 720.3 302.8 720.9 303.7 721.5 304.6 722.0 305.5 722.4 306.4 722.7 307.3 722.8 308.2 722.8 309.1 722.7 310.0 722.5 310.8 722.3 311.7 722.2 312.6 722.0 313.5 721.8 314.5 721.6 315.5 721.4 316.5 721.2 317.5 720.9 318.5 720.7 319.4 720.4 320.4 720.2 321.4 720.0 322.4 719.8 323.4 719.6 324.4 719.4 325.4 719.3 326.4 719.2 327.3 719.1 328.3 719.0 329.2 718.9 330.2 718.9 331.1 718.8 332.1 718.7 333.0 718.7 334.0 718.6 334.9 718.6 335.9 718.6 336.8 718.6 337.8 718.6 338.7 718.6 339.7 718.6 340.6 718.6 341.6 718.6 342.5 718.6 343.5 718.6 344.4 718.6 345.4 718.6 346.3 718.6 347.2 718.7 348.2 719.1 349.1 719.7 350.1 720.5 351.0 721.4 352.0 722.4 352.9 723.4 353.9 724.4 354.8 725.4 355.8 726.3 356.7 727.0 357.7 727.7 358.6 728.3 359.6 729.0 360.5 729.7 361.5 730.4 362.4 731.0 363.4 731.6 364.3 732.1 365.3 732.6 366.2 733.0 367.2 733.3 368.2 733.6 369.1 733.9 370.1 734.1 371.1 734.4 372.1 734.6 373.0 734.9 374.0 735.1 375.0 735.3 376.0 735.5 376.9 735.6 377.9 735.7 378.9 735.9 379.9 735.9 380.8 736.0 381.8 736.0 382.7 735.9 383.6 735.7 384.6 735.4 385.5 735.0 386.4 734.6 387.3 734.0 388.3 733.4 389.2 732.8 390.1 732.2 391.0 731.4 392.0 730.3 392.9 729.0 393.8 727.5 394.8 726.0 395.7 724.5 396.6 723.0 397.6 721.7 398.5 720.7 399.4 719.8 400.3 718.8 401.3 717.9 402.2 717.0 403.1 716.2 404.0 715.5 405.0 715.0 405.9 714.6 406.8 714.5 407.8 714.6 408.7 714.7 409.7 714.9 410.6 715.2 411.6 715.6 412.6 716.0 413.5 716.4 414.5 716.8 415.5 717.2 416.4 717.6 417.4 718.0 418.3 718.3 419.3 718.6 420.3 718.8 421.3 719.0 422.2 719.3 423.2 719.4 424.2 719.6 425.2 719.8 426.2 720.0 427.2 720.1 428.1 720.3 429.1 720.5 430.1 720.6 431.1 720.8 432.1 721.0 433.1 721.2 434.0 721.4 435.0 721.6 436.0 721.8 436.9 722.0 437.9 722.3 438.8 722.5 439.8 722.8 440.7 723.0 441.7 723.3 442.6 723.6 443.6 723.9 444.5 724.2 445.5 724.5 446.4 724.9 447.4 725.3 448.4 725.9 449.4 726.5 450.4 727.1 451.4 727.8 452.4 728.5 453.4 729.2 454.4 729.9 455.4 730.6 456.4 731.3 457.4 731.9 458.4 732.4 459.4 732.9 460.4 733.3 461.3 733.6 462.3 733.8 463.2 734.1 464.1 734.3 465.1 734.5 466.0 734.7 466.9 734.9 467.9 735.1 468.8 735.3 469.7 735.6 470.6 735.8 471.6 736.1 472.5 736.5 473.4 736.7 474.3 737.0 475.3 737.2 476.2 737.4 477.1 737.4 478.0 737.3 479.0 737.0 479.9 736.6 480.8 736.0 481.8 735.3 482.7 734.6 483.6 733.8 484.6 733.0 485.5 732.2 486.4 731.3 487.3 730.2 488.3 728.9 489.2 727.6 490.1 726.2 491.0 724.9 492.0 723.6 492.9 722.6 493.8 721.8 494.7 721.1 495.7 720.5 496.6 719.8 497.6 719.2 498.5 718.7 499.4 718.2 500.4 717.8 501.3 717.5 502.3 717.3 503.2 717.2 504.1 717.2 505.1 717.4 506.0 717.6 507.0 717.9 507.9 718.2 508.8 718.5 509.8 718.8 510.7 719.2 511.7 719.4 512.6 719.7 513.6 719.9 514.5 720.2 515.5 720.4 516.5 720.6 517.5 720.9 518.4 721.1 519.4 721.3 520.4 721.6 521.4 721.8 522.3 722.0 523.3 722.2 524.3 722.4 525.3 722.5 526.2 722.7 527.2 722.8 528.2 722.9 529.1 723.0 530.1 723.2 531.0 723.3 532.0 723.4 533.0 723.5 533.9 723.6 534.9 723.7 535.9 723.8 536.8 723.8 537.8 723.9 538.7 723.9 539.7 723.9 540.7 723.9 541.6 723.8 542.6 723.7 543.6 723.5 544.6 723.4 545.5 723.2 546.5 723.0 547.5 722.7 548.5 722.5 549.4 722.3 550.4 722.2 551.4 722.0 552.4 721.9 553.3 721.8 554.3 721.8 555.3 721.8 556.2 721.9 557.2 722.1 558.1 722.3 559.1 722.6 560.0 722.9 561.0 723.3 561.9 723.7 562.9 724.1 563.8 724.5 564.8 724.9 565.7 725.4 566.7 726.0 567.6 726.8 568.6 727.6 569.5 728.6 570.5 729.5 571.4 730.5 572.4 731.5 573.3 732.5 574.3 733.4 575.2 734.3 576.1 735.2 577.0 736.2 577.9 737.2 578.9 738.3 579.8 739.2 580.7 739.9 581.6 740.4 582.5 740.6 583.3 740.5 584.0 740.2 584.8 739.8 585.6 739.5" stroke="#ff0000" stroke-width="2.00" fill="none" stroke-linejoin="round" clip-path="url(#cc)"/>
<path d="M49.2 707.2L50.1 706.6 51.0 705.9 52.0 705.3 52.9 704.6 53.8 704.0 54.7 703.4 55.7 702.8 56.6 702.3 57.5 701.9 58.5 701.5 59.4 701.1 60.4 700.7 61.3 700.3 62.3 700.0 63.2 699.7 64.2 699.4 65.1 699.1 66.1 699.0 67.0 698.8 68.0 698.8 68.9 698.9 69.8 699.0 70.7 699.3 71.5 699.6 72.4 700.0 73.3 700.4 74.2 700.9 75.1 701.6 76.0 702.5 76.9 703.8 77.8 705.2 78.8 706.7 79.7 708.3 80.6 709.8 81.5 711.3 82.4 712.9 83.3 714.7 84.2 716.6 85.2 718.5 86.1 720.3 87.0 721.9 87.9 723.1 88.8 723.9 89.8 724.4 90.7 725.0 91.7 725.5 92.6 725.9 93.6 726.3 94.6 726.7 95.5 727.0 96.5 727.3 97.5 727.6 98.4 727.7 99.4 727.9 100.3 728.0 101.3 728.0 102.3 727.9 103.2 727.6 104.2 727.2 105.1 726.6 106.1 726.0 107.0 725.3 108.0 724.5 108.9 723.8 109.9 723.0 110.8 722.4 111.8 721.8 112.8 721.3 113.7 720.7 114.7 720.1 115.6 719.5 116.6 718.9 117.6 718.3 118.5 717.8 119.5 717.2 120.5 716.8 121.4 716.3 122.4 716.0 123.3 715.7 124.3 715.5 125.2 715.4 126.2 715.3 127.1 715.2 128.1 715.1 129.0 715.1 130.0 715.0 130.9 714.9 131.9 714.9 132.8 714.8 133.8 714.7 134.7 714.5 135.6 714.2 136.5 713.7 137.4 713.1 138.3 712.4 139.2 711.7 140.1 710.9 141.0 710.3 141.9 709.7 142.9 709.1 143.8 708.5 144.8 707.9 145.7 707.3 146.7 706.7 147.6 706.2 148.6 705.6 149.5 705.1 150.5 704.5 151.4 704.0 152.3 703.5 153.3 702.9 154.2 702.4 155.1 701.9 156.1 701.4 157.0 700.9 157.9 700.5 158.9 700.1 159.8 699.8 160.7 699.5 161.7 699.3 162.6 699.0 163.6 698.8 164.5 698.5 165.5 698.3 166.4 698.2 167.4 698.0 168.3 697.9 169.3 697.8 170.2 697.8 171.1 698.0 172.0 698.4 173.0 699.0 173.9 699.8 174.8 700.8 175.7 701.9 176.7 703.0 177.6 704.0 178.5 705.1 179.5 706.3 180.4 707.6 181.4 709.0 182.4 710.5 183.4 712.0 184.4 713.6 185.3 715.1 186.3 716.5 187.2 717.8 188.1 719.2 189.0 720.5 189.8 721.9 190.7 723.1 191.6 724.1 192.5 724.9 193.4 725.5 194.2 726.2 195.1 726.7 196.0 727.2 196.8 727.5 197.7 727.6 198.7 727.5 199.6 727.3 200.6 727.0 201.6 726.6 202.6 726.1 203.5 725.5 204.5 724.9 205.5 724.2 206.4 723.6 207.4 722.9 208.4 722.3 209.4 721.7 210.3 721.2 211.3 720.7 212.3 720.3 213.2 719.8 214.2 719.4 215.2 718.9 216.2 718.4 217.1 718.0 218.1 717.5 219.1 717.1 220.1 716.7 221.0 716.4 222.0 716.1 223.0 715.8 224.0 715.7 224.9 715.5 225.9 715.5 226.9 715.5 227.9 715.5 228.8 715.6 229.8 715.6 230.8 715.7 231.8 715.8 232.8 715.9 233.8 716.0 234.7 716.0 235.7 716.1 236.7 716.2 237.7 716.3 238.7 716.4 239.7 716.4 240.6 716.5 241.6 716.5 242.6 716.5 243.5 716.5 244.4 716.5 245.4 716.5 246.3 716.5 247.2 716.5 248.1 716.5 249.1 716.5 250.0 716.5 250.9 716.5 251.8 716.4 252.8 716.1 253.7 715.6 254.6 715.0 255.6 714.2 256.5 713.5 257.4 712.7 258.4 712.0 259.3 711.3 260.2 710.7 261.1 710.0 262.1 709.3 263.0 708.6 263.9 707.8 264.8 707.1 265.8 706.4 266.7 705.7 267.6 705.1 268.5 704.4 269.5 703.7 270.4 702.9 271.3 702.2 272.3 701.5 273.2 700.9 274.1 700.4 275.1 700.0 276.0 699.8 276.9 699.7 277.9 699.6 278.9 699.5 279.8 699.5 280.8 699.4 281.7 699.4 282.6 699.3 283.6 699.3 284.5 699.2 285.5 699.2 286.4 699.2 287.4 699.2 288.3 699.5 289.2 700.2 290.2 701.4 291.1 702.8 292.0 704.4 292.9 706.1 293.9 707.7 294.8 709.2 295.7 710.6 296.6 712.2 297.5 713.8 298.3 715.4 299.2 717.0 300.1 718.4 301.0 719.7 301.9 720.9 302.8 722.2 303.7 723.5 304.6 724.6 305.5 725.6 306.4 726.2 307.3 726.4 308.3 726.4 309.2 726.4 310.2 726.4 311.2 726.4 312.2 726.4 313.1 726.3 314.1 726.3 315.1 726.3 316.1 726.3 317.0 726.2 318.0 726.2 318.9 726.1 319.8 726.0 320.6 725.7 321.5 725.5 322.4 725.2 323.3 724.9 324.2 724.6 325.2 724.1 326.1 723.7 327.0 723.2 328.0 722.6 328.9 722.1 329.8 721.6 330.8 721.1 331.7 720.7 332.6 720.3 333.6 719.9 334.5 719.5 335.5 719.0 336.4 718.6 337.4 718.2 338.3 717.9 339.3 717.6 340.2 717.4 341.2 717.2 342.1 717.2 343.0 717.3 344.0 717.5 344.9 717.9 345.8 718.5 346.8 719.0 347.7 719.7 348.6 720.4 349.6 721.1 350.5 721.8 351.4 722.6 352.4 723.5 353.3 724.5 354.3 725.7 355.2 726.9 356.2 728.1 357.1 729.3 358.1 730.4 359.0 731.5 360.0 732.5 360.9 733.3 361.8 734.0 362.8 734.7 363.7 735.3 364.7 735.9 365.6 736.5 366.6 737.0 367.5 737.5 368.5 738.0 369.4 738.5 370.4 739.0 371.3 739.5 372.2 740.0 373.2 740.5 374.1 741.1 375.1 741.7 376.0 742.2 376.9 742.7 377.9 743.1 378.8 743.4 379.8 743.6 380.7 743.7 381.6 743.5 382.5 743.0 383.4 742.2 384.4 741.2 385.3 740.1 386.2 738.8 387.1 737.6 388.0 736.4 388.9 735.1 389.9 733.5 390.8 731.7 391.7 729.9 392.7 728.0 393.6 726.1 394.5 724.5 395.5 723.0 396.4 721.8 397.3 720.8 398.3 719.7 399.2 718.7 400.2 717.7 401.1 716.8 402.1 716.0 403.0 715.3 404.0 714.7 404.9 714.2 405.9 713.9 406.8 713.8 407.8 713.9 408.7 714.0 409.7 714.3 410.6 714.6 411.6 715.0 412.6 715.4 413.5 715.9 414.5 716.4 415.5 716.9 416.4 717.3 417.4 717.8 418.3 718.2 419.3 718.6 420.3 719.0 421.2 719.3 422.2 719.7 423.1 720.1 424.1 720.5 425.1 720.8 426.0 721.2 427.0 721.5 428.0 721.9 428.9 722.1 429.9 722.4 430.8 722.6 431.8 722.8 432.8 722.9 433.7 723.0 434.7 723.1 435.6 723.2 436.6 723.3 437.5 723.3 438.5 723.4 439.4 723.5 440.4 723.6 441.3 723.7 442.3 723.9 443.2 724.2 444.1 724.6 445.0 725.2 445.8 725.8 446.7 726.6 447.6 727.3 448.5 728.0 449.5 728.8 450.5 729.7 451.4 730.7 452.4 731.7 453.4 732.7 454.4 733.7 455.4 734.8 456.3 735.7 457.3 736.6 458.3 737.4 459.2 738.1 460.2 738.8 461.1 739.4 462.0 740.0 463.0 740.6 463.9 741.2 464.8 741.7 465.8 742.2 466.7 742.7 467.6 743.2 468.5 743.7 469.4 744.2 470.4 744.7 471.3 745.1 472.2 745.5 473.1 745.7 474.0 745.8 474.9 745.7 475.9 745.4 476.8 744.8 477.8 744.2 478.7 743.4 479.6 742.5 480.6 741.5 481.5 740.5 482.5 739.5 483.4 738.5 484.3 737.4 485.2 736.1 486.2 734.6 487.1 733.0 488.0 731.4 488.9 729.8 489.9 728.4 490.8 727.1 491.7 726.0 492.6 725.0 493.6 724.1 494.5 723.1 495.4 722.2 496.4 721.4 497.3 720.7 498.2 720.2 499.2 719.8 500.1 719.7 501.1 719.7 502.0 719.7 503.0 719.7 503.9 719.7 504.9 719.8 505.9 719.8 506.8 719.8 507.8 719.9 508.8 719.9 509.7 720.0 510.7 720.0 511.6 720.1 512.6 720.1 513.6 720.2 514.6 720.3 515.5 720.4 516.5 720.5 517.5 720.7 518.5 720.9 519.5 721.1 520.5 721.3 521.4 721.5 522.4 721.7 523.4 721.9 524.4 722.1 525.4 722.3 526.4 722.5 527.3 722.6 528.3 722.7 529.3 722.8 530.3 722.9 531.2 722.9 532.2 723.0 533.1 723.0 534.1 723.1 535.1 723.1 536.0 723.1 537.0 723.2 538.0 723.2 538.9 723.2 539.9 723.3 540.8 723.3 541.8 723.4 542.8 723.5 543.7 723.5 544.7 723.6 545.6 723.7 546.6 723.8 547.6 723.9 548.5 724.0 549.5 724.1 550.5 724.3 551.4 724.4 552.4 724.6 553.3 724.7 554.3 724.9 555.2 725.1 556.2 725.3 557.1 725.6 558.0 725.9 559.0 726.3 559.9 726.7 560.8 727.1 561.8 727.5 562.7 728.0 563.6 728.5 564.6 729.2 565.5 729.9 566.5 730.7 567.4 731.5 568.4 732.3 569.3 733.2 570.3 734.1 571.2 734.9 572.2 735.7 573.1 736.4 574.0 737.0 574.9 737.7 575.8 738.3 576.7 738.9 577.6 739.5 578.5 740.1 579.4 740.6 580.3 741.1 581.2 741.6 582.1 742.0 582.9 742.4 583.8 742.8 584.7 743.3 585.6 743.7" stroke="#0000ff" stroke-width="2.00" fill="none" stroke-linejoin="round" clip-path="url(#cc)"/>
<path d="M49.2 701.9L50.1 701.6 51.0 701.3 51.9 700.9 52.9 700.6 53.8 700.3 54.7 700.0 55.6 699.9 56.5 699.8 57.4 699.9 58.3 700.1 59.2 700.4 60.1 700.8 61.1 701.3 62.0 701.9 62.9 702.4 63.8 703.0 64.7 703.6 65.6 704.5 66.6 705.4 67.5 706.4 68.4 707.4 69.3 708.5 70.3 709.5 71.2 710.5 72.1 711.3 73.1 712.1 74.0 712.9 75.0 713.7 75.9 714.4 76.9 715.2 77.8 715.9 78.8 716.6 79.7 717.2 80.7 717.7 81.6 718.2 82.6 718.6 83.5 718.9 84.4 719.3 85.4 719.6 86.3 719.9 87.2 720.2 88.1 720.4 89.1 720.6 90.0 720.7 90.9 720.7 91.9 720.7 92.9 720.7 93.8 720.6 94.8 720.5 95.8 720.4 96.8 720.3 97.8 720.2 98.8 720.1 99.7 719.9 100.7 719.8 101.7 719.6 102.7 719.4 103.7 719.3 104.7 719.1 105.6 718.9 106.6 718.8 107.6 718.6 108.6 718.4 109.6 718.3 110.6 718.1 111.6 717.9 112.6 717.7 113.6 717.5 114.6 717.3 115.6 717.0 116.6 716.8 117.6 716.6 118.5 716.3 119.5 716.1 120.5 715.8 121.5 715.5 122.5 715.3 123.5 715.0 124.5 714.7 125.5 714.4 126.5 714.1 127.5 713.7 128.5 713.4 129.5 713.1 130.4 712.7 131.4 712.3 132.4 711.8 133.4 711.4 134.3 710.9 135.3 710.4 136.3 709.9 137.3 709.4 138.2 708.9 139.2 708.3 140.2 707.8 141.2 707.2 142.1 706.7 143.1 706.1 144.1 705.5 145.0 704.8 146.0 704.0 146.9 703.2 147.9 702.3 148.9 701.5 149.8 700.7 150.8 699.9 151.8 699.2 152.7 698.6 153.7 698.2 154.6 697.9 155.6 697.8 156.5 697.9 157.4 698.2 158.4 698.6 159.3 699.2 160.2 699.9 161.1 700.6 162.1 701.4 163.0 702.2 163.9 703.0 164.8 703.9 165.8 705.1 166.7 706.4 167.6 707.9 168.6 709.4 169.5 710.9 170.4 712.2 171.4 713.5 172.3 714.5 173.2 715.4 174.1 716.2 175.1 717.1 176.0 717.8 176.9 718.5 177.8 719.2 178.8 719.8 179.7 720.3 180.6 720.7 181.6 721.1 182.5 721.5 183.5 721.8 184.4 722.1 185.4 722.4 186.4 722.6 187.3 722.8 188.3 722.8 189.3 722.8 190.3 722.8 191.3 722.7 192.3 722.7 193.3 722.6 194.3 722.6 195.3 722.5 196.3 722.4 197.3 722.3 198.3 722.2 199.3 722.1 200.3 722.0 201.3 721.9 202.3 721.8 203.3 721.7 204.3 721.5 205.3 721.4 206.3 721.3 207.3 721.2 208.3 721.1 209.3 720.9 210.3 720.8 211.3 720.7 212.3 720.6 213.3 720.5 214.3 720.4 215.3 720.2 216.3 720.1 217.3 720.0 218.3 719.9 219.3 719.7 220.3 719.6 221.3 719.4 222.2 719.3 223.2 719.2 224.2 719.0 225.2 718.8 226.2 718.7 227.2 718.5 228.2 718.3 229.2 718.2 230.2 718.0 231.2 717.8 232.2 717.6 233.2 717.4 234.1 717.2 235.1 717.0 236.1 716.8 237.1 716.5 238.0 716.3 239.0 716.1 240.0 715.8 241.0 715.5 241.9 715.2 242.9 714.9 243.9 714.6 244.9 714.2 245.8 713.8 246.8 713.4 247.8 712.9 248.7 712.4 249.7 711.7 250.6 711.0 251.6 710.2 252.6 709.3 253.5 708.4 254.5 707.5 255.5 706.6 256.4 705.6 257.4 704.7 258.3 703.8 259.3 703.0 260.2 702.2 261.1 701.3 262.1 700.4 263.0 699.5 263.9 698.6 264.8 697.7 265.8 696.9 266.7 696.3 267.6 695.7 268.5 695.2 269.3 694.7 270.2 694.3 271.1 693.9 271.9 693.7 272.8 693.6 273.7 693.7 274.6 694.1 275.5 694.6 276.3 695.2 277.2 695.9 278.1 696.7 279.0 697.8 279.9 699.3 280.8 701.1 281.6 703.1 282.5 705.2 283.4 707.3 284.3 709.2 285.2 711.1 286.1 713.1 287.0 715.2 287.9 717.2 288.8 719.0 289.7 720.6 290.6 721.8 291.5 722.7 292.4 723.6 293.3 724.5 294.1 725.2 295.0 725.8 295.9 726.2 296.8 726.4 297.8 726.5 298.7 726.6 299.7 726.7 300.6 726.8 301.6 726.8 302.5 726.9 303.5 726.9 304.4 727.0 305.4 727.0 306.3 727.0 307.3 727.0 308.3 727.0 309.2 727.0 310.2 727.0 311.1 727.0 312.1 727.0 313.0 727.0 314.0 727.0 314.9 727.0 315.9 727.0 316.8 727.0 317.8 727.0 318.7 727.0 319.7 727.0 320.6 727.0 321.6 727.0 322.5 727.0 323.5 727.0 324.4 727.0 325.4 727.0 326.4 727.0 327.3 727.2 328.3 727.3 329.3 727.6 330.3 727.9 331.2 728.2 332.2 728.6 333.2 729.1 334.2 729.5 335.1 729.9 336.1 730.4 337.1 730.9 338.1 731.3 339.0 731.8 340.0 732.2 341.0 732.6 341.9 733.1 342.9 733.5 343.9 734.0 344.8 734.5 345.8 735.0 346.8 735.5 347.8 736.0 348.7 736.6 349.7 737.1 350.7 737.6 351.6 738.0 352.6 738.5 353.5 739.0 354.5 739.5 355.4 740.0 356.4 740.6 357.3 741.1 358.3 741.7 359.2 742.1 360.2 742.5 361.1 742.8 362.1 743.0 363.0 743.1 363.9 743.0 364.9 742.7 365.8 742.3 366.8 741.8 367.7 741.1 368.7 740.4 369.6 739.6 370.6 738.8 371.5 738.0 372.5 737.2 373.4 736.4 374.4 735.6 375.3 734.6 376.3 733.6 377.2 732.5 378.2 731.4 379.1 730.2 380.1 729.2 381.0 728.2 382.0 727.3 382.9 726.6 383.9 726.0 384.8 725.6 385.8 725.1 386.7 724.7 387.7 724.3 388.6 724.0 389.6 723.6 390.5 723.4 391.5 723.1 392.4 722.9 393.4 722.8 394.3 722.8 395.3 722.8 396.2 722.8 397.2 722.8 398.2 722.9 399.2 722.9 400.1 722.9 401.1 723.0 402.1 723.0 403.1 723.0 404.0 723.1 405.0 723.2 406.0 723.2 407.0 723.3 407.9 723.3 408.9 723.4 409.9 723.5 410.8 723.6 411.8 723.7 412.8 723.8 413.8 724.0 414.7 724.1 415.7 724.3 416.7 724.5 417.7 724.7 418.6 724.9 419.6 725.1 420.6 725.3 421.6 725.5 422.5 725.8 423.5 726.0 424.5 726.2 425.4 726.5 426.4 726.7 427.3 727.0 428.3 727.3 429.3 727.6 430.2 727.9 431.2 728.2 432.2 728.6 433.1 728.9 434.1 729.3 435.0 729.7 436.0 730.1 436.9 730.5 437.9 731.0 438.8 731.5 439.8 732.1 440.7 732.7 441.7 733.3 442.6 733.9 443.6 734.6 444.5 735.2 445.5 735.8 446.4 736.4 447.4 737.0 448.4 737.7 449.4 738.4 450.4 739.0 451.4 739.7 452.3 740.4 453.3 741.0 454.3 741.6 455.3 742.2 456.3 742.7 457.2 743.2 458.1 743.6 459.0 744.1 459.8 744.5 460.7 744.9 461.6 745.1 462.5 745.2 463.4 745.1 464.4 744.7 465.3 744.1 466.2 743.3 467.2 742.5 468.1 741.5 469.0 740.5 470.0 739.5 470.9 738.5 471.8 737.4 472.7 736.2 473.7 734.8 474.6 733.3 475.5 731.8 476.4 730.4 477.4 729.1 478.3 727.9 479.2 727.0 480.1 726.2 481.1 725.5 482.0 724.7 482.9 724.1 483.9 723.5 484.8 722.9 485.7 722.5 486.7 722.1 487.6 721.8 488.5 721.6 489.5 721.4 490.4 721.2 491.4 721.0 492.3 720.8 493.3 720.7 494.2 720.5 495.2 720.4 496.1 720.4 497.1 720.3 498.0 720.3 499.0 720.3 499.9 720.4 500.9 720.4 501.9 720.5 502.9 720.6 503.8 720.7 504.8 720.8 505.8 721.0 506.8 721.1 507.7 721.2 508.7 721.4 509.7 721.5 510.7 721.6 511.6 721.7 512.6 721.8 513.6 721.9 514.6 721.9 515.5 722.0 516.5 722.1 517.5 722.1 518.5 722.2 519.5 722.2 520.5 722.3 521.4 722.3 522.4 722.4 523.4 722.4 524.4 722.5 525.4 722.5 526.4 722.6 527.3 722.6 528.3 722.7 529.3 722.8 530.3 722.9 531.2 723.0 532.2 723.1 533.2 723.2 534.2 723.3 535.1 723.4 536.1 723.5 537.1 723.7 538.1 723.8 539.0 724.0 540.0 724.1 541.0 724.3 542.0 724.5 542.9 724.7 543.9 724.9 544.8 725.1 545.8 725.4 546.7 725.7 547.7 726.0 548.6 726.4 549.6 726.8 550.5 727.2 551.5 727.7 552.4 728.1 553.4 728.6 554.3 729.1 555.3 729.6 556.2 730.3 557.2 730.9 558.1 731.6 559.1 732.4 560.0 733.2 561.0 734.0 561.9 734.8 562.9 735.7 563.8 736.5 564.8 737.4 565.7 738.3 566.6 739.2 567.6 740.2 568.5 741.2 569.4 742.2 570.3 743.2 571.3 744.1 572.2 745.0 573.1 745.8 574.0 746.6 574.9 747.4 575.8 748.2 576.7 748.9 577.6 749.5 578.5 749.9 579.4 750.0 580.2 749.9 581.0 749.8 581.9 749.6 582.7 749.3 583.5 748.9 584.2 748.3 584.9 747.3 585.6 746.4" stroke="#000000" stroke-width="2.00" fill="none" stroke-linejoin="round" clip-path="url(#cc)"/>
<text x="317.25" y="782.70" font-size="8.5" text-anchor="middle" font-weight="normal" fill="#262626">Time [s]</text>
<text x="0.00" y="0.00" font-size="8.5" text-anchor="middle" font-weight="normal" fill="#262626" transform="translate(32.2 722.00) rotate(-90)">CoP [% of foot length]</text>
</svg>
</body></html>
